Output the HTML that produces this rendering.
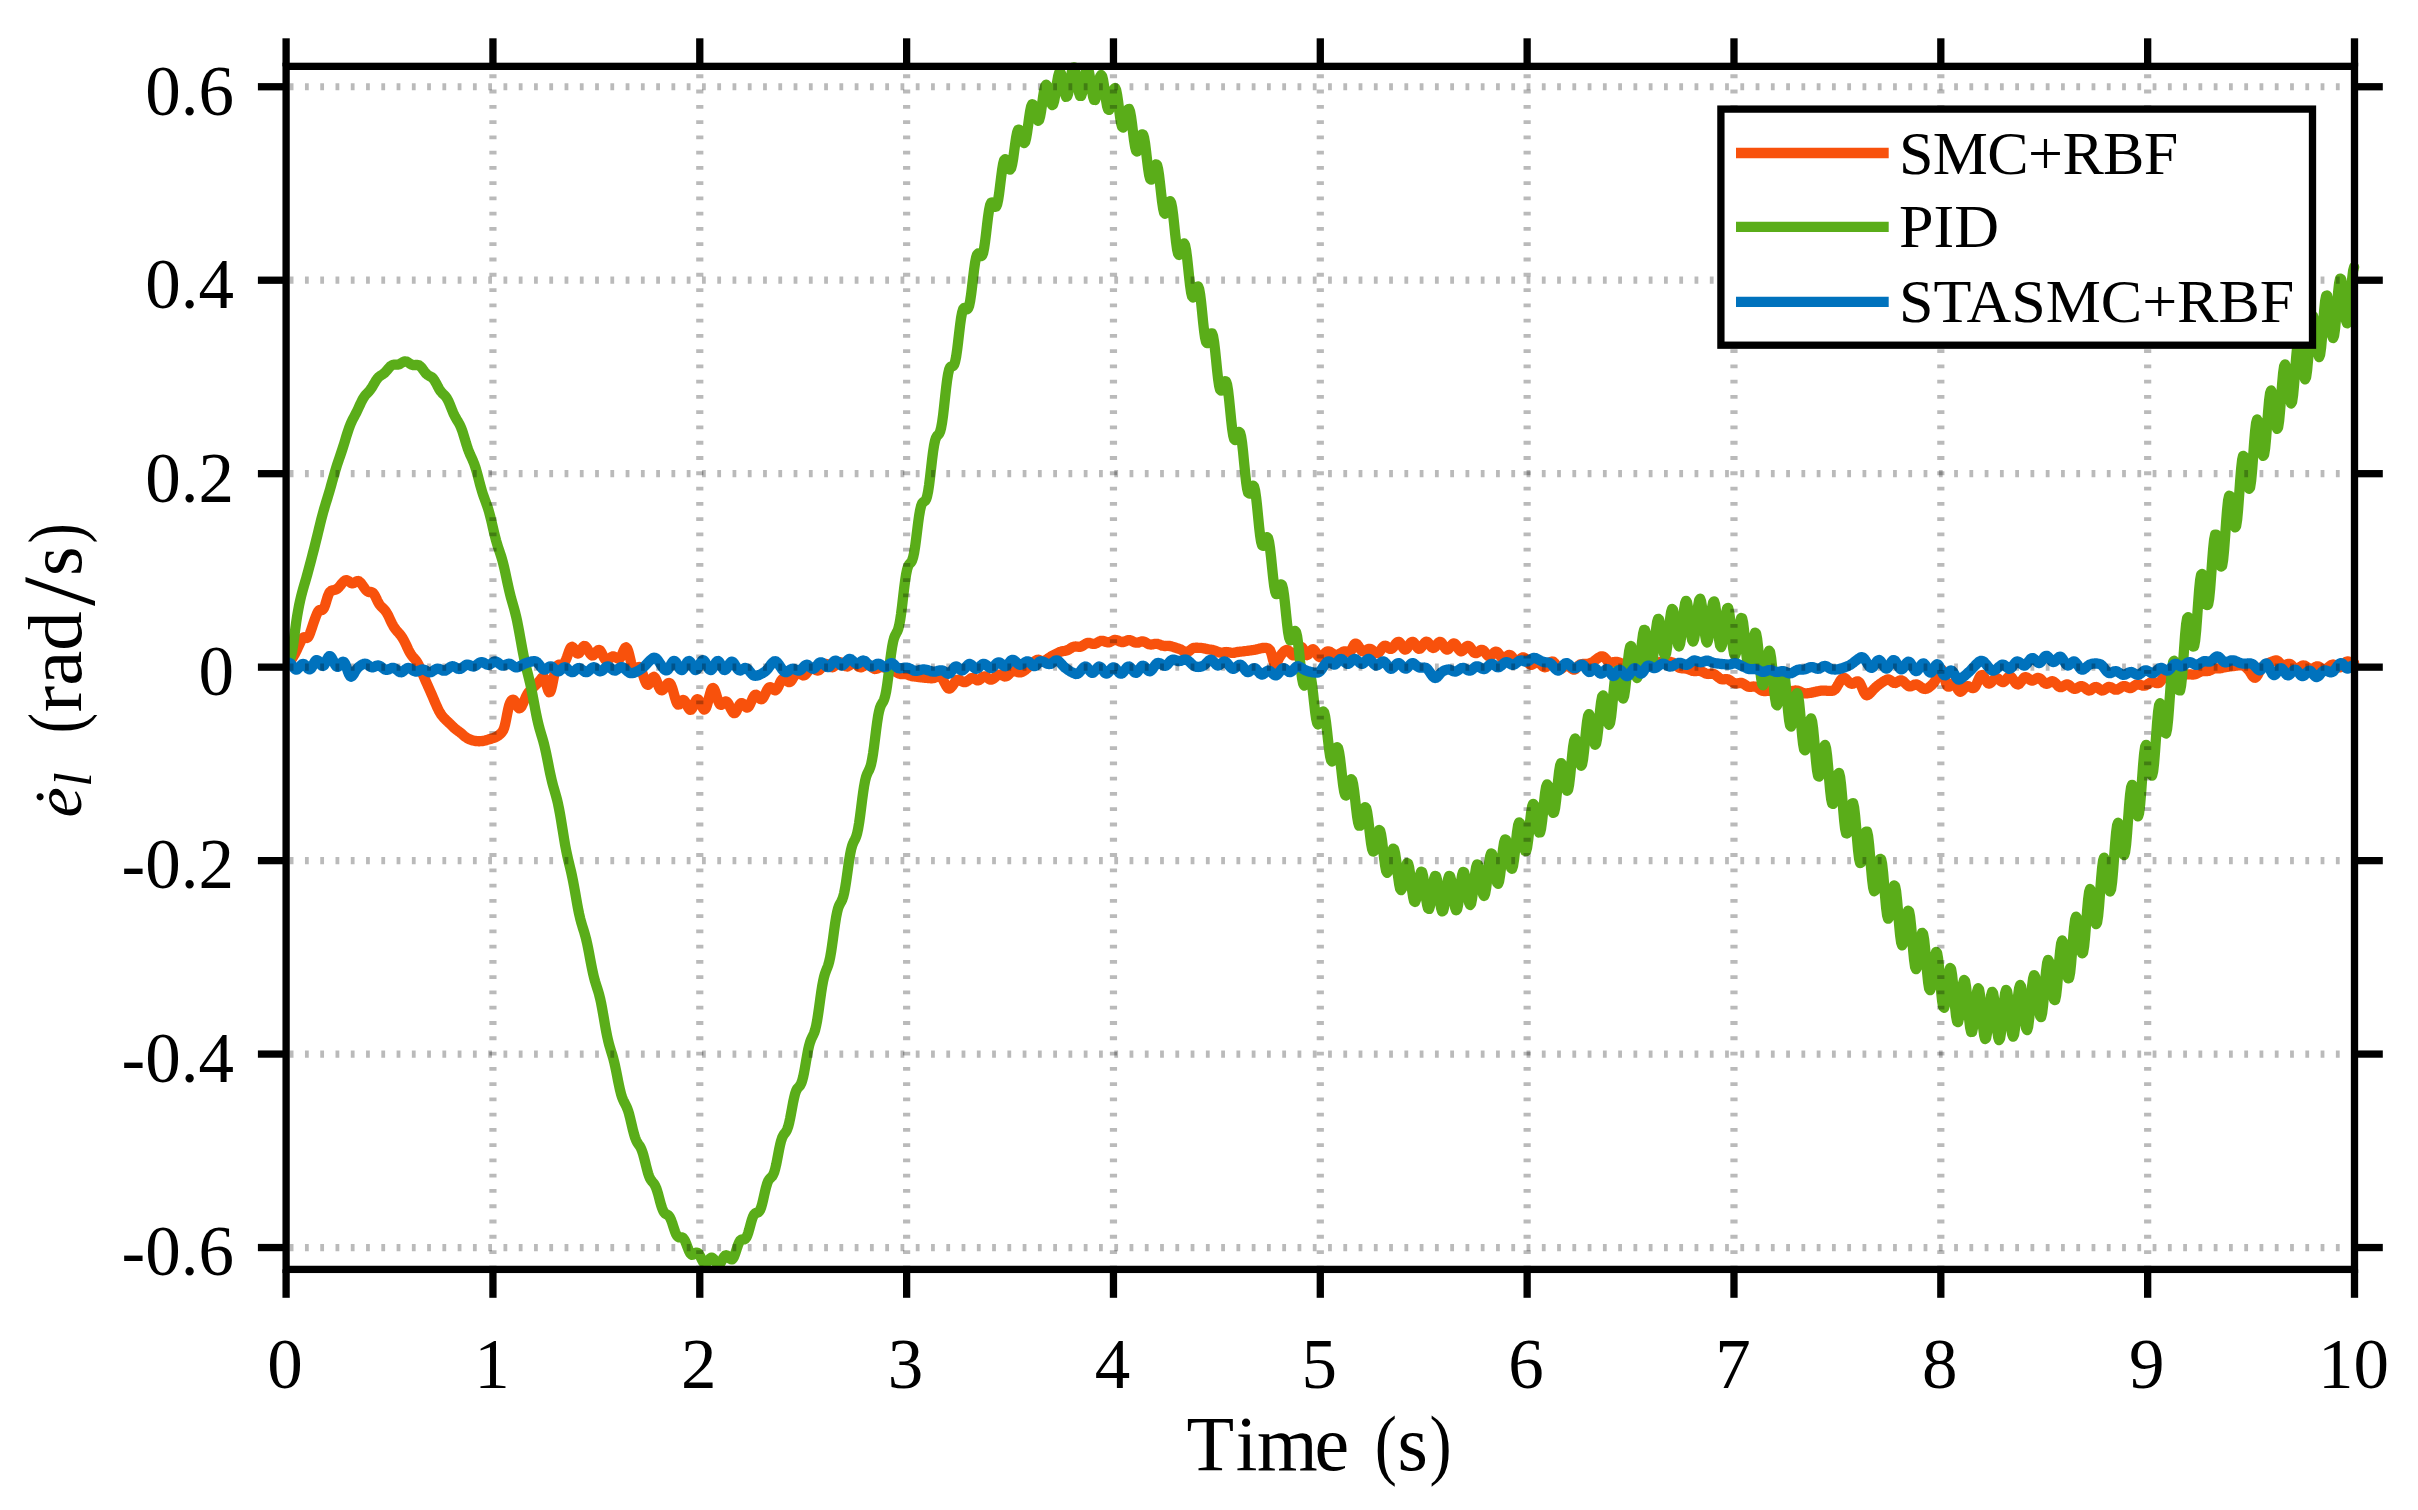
<!DOCTYPE html>
<html lang="en"><head><meta charset="utf-8"><title>Tracking error rate</title>
<style>html,body{margin:0;padding:0;background:#fff}body{width:2418px;height:1510px;overflow:hidden}svg{display:block}text{font-family:"Liberation Serif","DejaVu Serif",serif;fill:#000}</style></head><body>
<svg width="2418" height="1510" viewBox="0 0 2418 1510">
<rect width="2418" height="1510" fill="#fff"/>
<defs><clipPath id="pc"><rect x="283" y="40" width="2077" height="1250"/></clipPath></defs>
<g fill="none" stroke-width="10.3" stroke-linejoin="round" stroke-linecap="round" clip-path="url(#pc)">
<path stroke="#f8510c" d="M286.1 663.0L287.1 662.9L288.1 662.6L289.1 662.1L290.1 661.2L291.1 660.0L292.1 658.6L293.1 656.9L294.1 655.2L295.1 653.4L296.1 651.4L297.1 649.4L298.1 647.2L299.1 645.1L300.1 642.9L301.1 640.8L302.1 639.0L303.1 637.7L304.1 637.2L305.1 637.4L306.1 637.8L307.1 638.0L308.1 637.2L309.1 635.4L310.1 633.0L311.1 630.1L312.1 627.2L313.1 624.2L314.1 621.3L315.1 618.5L316.1 615.8L317.1 613.3L318.1 611.4L319.1 610.3L320.1 609.9L321.1 610.0L322.1 610.0L323.1 609.3L324.1 607.7L325.1 605.1L326.1 601.9L327.1 598.5L328.1 595.5L329.1 593.2L330.1 591.7L331.1 590.9L332.1 590.5L333.1 590.2L334.1 590.0L335.1 589.8L336.1 589.4L337.1 588.9L338.1 588.1L339.1 587.0L340.1 585.8L341.1 584.5L342.1 583.2L343.1 582.1L344.1 581.1L345.1 580.4L346.1 580.1L347.1 580.3L348.1 580.8L349.1 581.5L350.1 582.3L351.1 583.0L352.1 583.3L353.1 583.3L354.1 582.9L355.1 582.2L356.1 581.6L357.1 581.1L358.1 581.0L359.1 581.4L360.1 582.2L361.1 583.3L362.1 584.7L363.1 586.1L364.1 587.6L365.1 589.0L366.1 590.2L367.1 591.2L368.1 591.7L369.1 592.0L370.1 592.0L371.1 592.0L372.1 592.2L373.1 593.0L374.1 594.2L375.1 596.0L376.1 598.0L377.1 600.2L378.1 602.2L379.1 603.9L380.1 605.3L381.1 606.5L382.1 607.4L383.1 608.4L384.1 609.3L385.1 610.5L386.1 611.8L387.1 613.5L388.1 615.3L389.1 617.4L390.1 619.6L391.1 621.7L392.1 623.8L393.1 625.6L394.1 627.3L395.1 628.7L396.1 630.0L397.1 631.2L398.1 632.3L399.1 633.4L400.1 634.6L401.1 635.8L402.1 637.3L403.1 638.9L404.1 640.7L405.1 642.7L406.1 644.8L407.1 647.0L408.1 649.2L409.1 651.2L410.1 653.0L411.1 654.6L412.1 656.0L413.1 657.2L414.1 658.3L415.1 659.4L416.1 660.7L417.1 662.2L418.1 663.9L419.1 665.9L420.1 668.0L421.1 670.2L422.1 672.6L423.1 674.9L424.1 677.3L425.1 679.6L426.1 681.9L427.1 684.1L428.1 686.4L429.1 688.6L430.1 690.8L431.1 693.1L432.1 695.4L433.1 697.8L434.1 700.1L435.1 702.5L436.1 704.8L437.1 707.0L438.1 709.1L439.1 711.1L440.1 712.8L441.1 714.4L442.1 715.8L443.1 717.0L444.1 718.2L445.1 719.2L446.1 720.1L447.1 721.1L448.1 722.0L449.1 723.0L450.1 723.9L451.1 724.9L452.1 725.9L453.1 726.9L454.1 727.8L455.1 728.7L456.1 729.5L457.1 730.2L458.1 731.0L459.1 731.7L460.1 732.4L461.1 733.3L462.1 734.1L463.1 735.0L464.1 735.9L465.1 736.7L466.1 737.4L467.1 738.1L468.1 738.6L469.1 739.1L470.1 739.5L471.1 739.9L472.1 740.2L473.1 740.5L474.1 740.7L475.1 740.9L476.1 741.1L477.1 741.2L478.1 741.2L479.1 741.3L480.1 741.2L481.1 741.2L482.1 741.1L483.1 740.9L484.1 740.7L485.1 740.5L486.1 740.2L487.1 739.9L488.1 739.6L489.1 739.3L490.1 739.0L491.1 738.7L492.1 738.4L493.1 738.1L494.1 737.8L495.1 737.4L496.1 736.9L497.1 736.4L498.1 735.7L499.1 735.0L500.1 734.1L501.1 733.2L502.1 732.0L503.1 730.5L504.1 728.1L505.1 724.4L506.1 719.7L507.1 714.5L508.1 709.6L509.1 705.6L510.1 702.8L511.1 701.0L512.1 700.0L513.1 699.7L514.1 700.2L515.1 701.6L516.1 703.5L517.1 705.6L518.1 707.3L519.1 708.3L520.1 708.2L521.1 707.2L522.1 705.4L523.1 703.3L524.1 701.0L525.1 698.7L526.1 696.5L527.1 694.6L528.1 693.0L529.1 691.7L530.1 690.6L531.1 689.6L532.1 688.6L533.1 687.7L534.1 686.7L535.1 685.7L536.1 684.7L537.1 683.7L538.1 682.6L539.1 681.4L540.1 680.1L541.1 678.8L542.1 677.6L543.1 677.0L544.1 677.5L545.1 679.7L546.1 683.0L547.1 686.9L548.1 690.2L549.1 692.2L550.1 692.0L551.1 689.8L552.1 685.8L553.1 680.8L554.1 675.6L555.1 671.1L556.1 667.9L557.1 665.9L558.1 665.0L559.1 664.6L560.1 664.5L561.1 664.4L562.1 664.3L563.1 663.9L564.1 663.0L565.1 661.5L566.1 659.4L567.1 656.8L568.1 653.9L569.1 651.1L570.1 648.7L571.1 647.2L572.1 646.8L573.1 647.4L574.1 648.8L575.1 650.5L576.1 652.2L577.1 653.3L578.1 653.6L579.1 653.0L580.1 651.7L581.1 650.0L582.1 648.2L583.1 646.8L584.1 646.0L585.1 646.1L586.1 646.9L587.1 648.3L588.1 650.1L589.1 651.9L590.1 653.6L591.1 654.8L592.1 655.5L593.1 655.4L594.1 654.6L595.1 653.5L596.1 652.2L597.1 651.0L598.1 650.2L599.1 649.9L600.1 650.5L601.1 651.8L602.1 653.8L603.1 656.0L604.1 658.0L605.1 659.6L606.1 660.4L607.1 660.4L608.1 659.8L609.1 659.0L610.1 658.0L611.1 657.2L612.1 656.6L613.1 656.3L614.1 656.5L615.1 657.0L616.1 657.6L617.1 658.2L618.1 658.7L619.1 658.8L620.1 658.1L621.1 656.6L622.1 654.4L623.1 651.8L624.1 649.5L625.1 647.8L626.1 647.3L627.1 648.3L628.1 650.7L629.1 654.2L630.1 658.4L631.1 662.7L632.1 666.5L633.1 669.5L634.1 671.2L635.1 671.3L636.1 670.3L637.1 668.7L638.1 667.4L639.1 666.9L640.1 667.7L641.1 669.6L642.1 672.2L643.1 675.1L644.1 678.2L645.1 681.0L646.1 683.3L647.1 684.6L648.1 684.9L649.1 684.0L650.1 682.3L651.1 680.3L652.1 678.3L653.1 677.1L654.1 676.8L655.1 677.8L656.1 679.7L657.1 682.2L658.1 685.0L659.1 687.4L660.1 689.3L661.1 690.2L662.1 690.3L663.1 689.7L664.1 688.5L665.1 687.0L666.1 685.5L667.1 684.2L668.1 683.2L669.1 682.9L670.1 683.5L671.1 685.1L672.1 687.6L673.1 690.8L674.1 694.4L675.1 698.0L676.1 701.1L677.1 703.4L678.1 704.6L679.1 704.5L680.1 703.4L681.1 701.8L682.1 700.5L683.1 699.9L684.1 700.4L685.1 701.6L686.1 703.4L687.1 705.5L688.1 707.4L689.1 708.9L690.1 709.8L691.1 709.7L692.1 708.6L693.1 706.7L694.1 704.3L695.1 702.0L696.1 700.2L697.1 699.2L698.1 699.3L699.1 700.4L700.1 702.3L701.1 704.6L702.1 706.8L703.1 708.6L704.1 709.6L705.1 709.3L706.1 707.7L707.1 704.9L708.1 701.3L709.1 697.3L710.1 693.5L711.1 690.4L712.1 688.4L713.1 687.9L714.1 688.9L715.1 691.1L716.1 694.2L717.1 697.5L718.1 700.7L719.1 703.1L720.1 704.6L721.1 704.9L722.1 704.4L723.1 703.4L724.1 702.3L725.1 701.5L726.1 701.3L727.1 701.9L728.1 703.3L729.1 705.1L730.1 707.2L731.1 709.3L732.1 711.1L733.1 712.5L734.1 713.2L735.1 713.0L736.1 711.8L737.1 709.9L738.1 707.8L739.1 705.6L740.1 704.0L741.1 703.1L742.1 703.1L743.1 703.8L744.1 705.0L745.1 706.2L746.1 707.2L747.1 707.6L748.1 707.3L749.1 706.1L750.1 704.3L751.1 702.0L752.1 699.7L753.1 697.5L754.1 695.8L755.1 694.9L756.1 694.7L757.1 695.4L758.1 696.5L759.1 697.8L760.1 698.9L761.1 699.3L762.1 699.1L763.1 698.0L764.1 696.3L765.1 694.3L766.1 692.1L767.1 690.0L768.1 688.4L769.1 687.4L770.1 687.1L771.1 687.5L772.1 688.3L773.1 689.3L774.1 690.1L775.1 690.4L776.1 690.0L777.1 688.8L778.1 687.0L779.1 684.8L780.1 682.5L781.1 680.6L782.1 679.3L783.1 678.7L784.1 678.8L785.1 679.4L786.1 680.3L787.1 681.2L788.1 681.9L789.1 682.2L790.1 682.0L791.1 681.1L792.1 679.7L793.1 678.0L794.1 676.3L795.1 674.6L796.1 673.2L797.1 672.4L798.1 672.2L799.1 672.5L800.1 673.3L801.1 674.2L802.1 675.0L803.1 675.5L804.1 675.4L805.1 674.9L806.1 673.9L807.1 672.6L808.1 671.2L809.1 669.9L810.1 668.8L811.1 668.1L812.1 667.9L813.1 668.2L814.1 668.8L815.1 669.5L816.1 670.1L817.1 670.5L818.1 670.5L819.1 670.1L820.1 669.2L821.1 668.1L822.1 666.8L823.1 665.6L824.1 664.6L825.1 664.0L826.1 663.9L827.1 664.2L828.1 664.9L829.1 665.7L830.1 666.5L831.1 667.1L832.1 667.3L833.1 667.0L834.1 666.4L835.1 665.5L836.1 664.4L837.1 663.5L838.1 662.7L839.1 662.2L840.1 662.2L841.1 662.5L842.1 663.2L843.1 664.0L844.1 664.9L845.1 665.7L846.1 666.3L847.1 666.5L848.1 666.2L849.1 665.7L850.1 664.9L851.1 664.1L852.1 663.4L853.1 663.0L854.1 663.1L855.1 663.5L856.1 664.3L857.1 665.2L858.1 666.1L859.1 666.9L860.1 667.3L861.1 667.3L862.1 667.0L863.1 666.5L864.1 665.9L865.1 665.3L866.1 664.8L867.1 664.6L868.1 664.6L869.1 665.0L870.1 665.7L871.1 666.5L872.1 667.4L873.1 668.2L874.1 668.7L875.1 669.0L876.1 668.9L877.1 668.6L878.1 668.1L879.1 667.6L880.1 667.2L881.1 667.0L882.1 667.0L883.1 667.2L884.1 667.5L885.1 667.8L886.1 668.2L887.1 668.6L888.1 668.9L889.1 669.2L890.1 669.5L891.1 669.8L892.1 670.1L893.1 670.5L894.1 670.9L895.1 671.4L896.1 672.0L897.1 672.6L898.1 673.1L899.1 673.6L900.1 673.9L901.1 674.1L902.1 674.2L903.1 674.2L904.1 674.1L905.1 674.1L906.1 674.3L907.1 674.5L908.1 674.8L909.1 675.2L910.1 675.6L911.1 675.9L912.1 676.2L913.1 676.4L914.1 676.5L915.1 676.6L916.1 676.7L917.1 676.8L918.1 676.9L919.1 677.1L920.1 677.2L921.1 677.4L922.1 677.5L923.1 677.6L924.1 677.7L925.1 677.8L926.1 677.9L927.1 678.0L928.1 678.1L929.1 678.2L930.1 678.2L931.1 678.3L932.1 678.3L933.1 678.1L934.1 677.9L935.1 677.5L936.1 677.1L937.1 676.7L938.1 676.3L939.1 676.2L940.1 676.3L941.1 677.0L942.1 678.2L943.1 679.9L944.1 681.8L945.1 683.8L946.1 685.7L947.1 687.2L948.1 688.3L949.1 688.6L950.1 688.4L951.1 687.5L952.1 686.3L953.1 684.8L954.1 683.3L955.1 681.8L956.1 680.7L957.1 679.9L958.1 679.6L959.1 679.7L960.1 680.2L961.1 680.8L962.1 681.5L963.1 682.0L964.1 682.2L965.1 682.2L966.1 681.8L967.1 681.2L968.1 680.5L969.1 679.7L970.1 679.0L971.1 678.3L972.1 678.0L973.1 677.9L974.1 678.3L975.1 679.0L976.1 679.7L977.1 680.3L978.1 680.4L979.1 680.1L980.1 679.4L981.1 678.5L982.1 677.5L983.1 676.8L984.1 676.3L985.1 676.3L986.1 676.7L987.1 677.4L988.1 678.3L989.1 679.0L990.1 679.6L991.1 679.7L992.1 679.5L993.1 679.0L994.1 678.2L995.1 677.3L996.1 676.4L997.1 675.6L998.1 674.9L999.1 674.6L1000.1 674.5L1001.1 674.7L1002.1 675.2L1003.1 675.8L1004.1 676.2L1005.1 676.5L1006.1 676.4L1007.1 675.9L1008.1 675.1L1009.1 674.1L1010.1 673.0L1011.1 672.1L1012.1 671.4L1013.1 671.1L1014.1 671.1L1015.1 671.3L1016.1 671.6L1017.1 671.9L1018.1 672.2L1019.1 672.4L1020.1 672.4L1021.1 672.3L1022.1 671.9L1023.1 671.4L1024.1 670.8L1025.1 670.1L1026.1 669.2L1027.1 668.3L1028.1 667.4L1029.1 666.4L1030.1 665.4L1031.1 664.4L1032.1 663.5L1033.1 662.6L1034.1 661.8L1035.1 661.0L1036.1 660.4L1037.1 659.9L1038.1 659.7L1039.1 659.8L1040.1 660.4L1041.1 661.3L1042.1 661.7L1043.1 661.5L1044.1 661.0L1045.1 660.4L1046.1 659.8L1047.1 659.1L1048.1 658.5L1049.1 657.8L1050.1 657.1L1051.1 656.5L1052.1 655.8L1053.1 655.3L1054.1 654.8L1055.1 654.3L1056.1 653.8L1057.1 653.3L1058.1 652.8L1059.1 652.3L1060.1 651.9L1061.1 651.6L1062.1 651.3L1063.1 651.1L1064.1 651.0L1065.1 650.9L1066.1 650.6L1067.1 650.3L1068.1 649.9L1069.1 649.3L1070.1 648.7L1071.1 648.0L1072.1 647.4L1073.1 646.9L1074.1 646.6L1075.1 646.5L1076.1 646.5L1077.1 646.6L1078.1 646.8L1079.1 646.8L1080.1 646.8L1081.1 646.5L1082.1 646.1L1083.1 645.5L1084.1 644.8L1085.1 644.1L1086.1 643.5L1087.1 643.1L1088.1 642.9L1089.1 642.9L1090.1 643.1L1091.1 643.4L1092.1 643.7L1093.1 643.9L1094.1 643.9L1095.1 643.7L1096.1 643.3L1097.1 642.8L1098.1 642.2L1099.1 641.6L1100.1 641.1L1101.1 640.8L1102.1 640.8L1103.1 640.9L1104.1 641.2L1105.1 641.6L1106.1 642.0L1107.1 642.2L1108.1 642.4L1109.1 642.3L1110.1 642.0L1111.1 641.5L1112.1 641.0L1113.1 640.5L1114.1 640.1L1115.1 639.9L1116.1 640.0L1117.1 640.2L1118.1 640.6L1119.1 641.1L1120.1 641.6L1121.1 641.9L1122.1 642.1L1123.1 642.1L1124.1 641.8L1125.1 641.4L1126.1 641.0L1127.1 640.5L1128.1 640.2L1129.1 640.1L1130.1 640.2L1131.1 640.6L1132.1 641.0L1133.1 641.6L1134.1 642.1L1135.1 642.5L1136.1 642.7L1137.1 642.7L1138.1 642.6L1139.1 642.2L1140.1 641.9L1141.1 641.6L1142.1 641.4L1143.1 641.4L1144.1 641.7L1145.1 642.1L1146.1 642.7L1147.1 643.3L1148.1 643.8L1149.1 644.3L1150.1 644.5L1151.1 644.6L1152.1 644.5L1153.1 644.2L1154.1 644.0L1155.1 643.8L1156.1 643.8L1157.1 643.8L1158.1 644.1L1159.1 644.4L1160.1 644.8L1161.1 645.2L1162.1 645.6L1163.1 645.8L1164.1 646.0L1165.1 646.0L1166.1 646.0L1167.1 645.9L1168.1 645.9L1169.1 645.9L1170.1 646.1L1171.1 646.3L1172.1 646.6L1173.1 646.9L1174.1 647.2L1175.1 647.5L1176.1 647.9L1177.1 648.2L1178.1 648.5L1179.1 648.9L1180.1 649.2L1181.1 649.7L1182.1 650.3L1183.1 651.0L1184.1 651.7L1185.1 652.3L1186.1 652.5L1187.1 652.3L1188.1 651.8L1189.1 651.1L1190.1 650.2L1191.1 649.4L1192.1 648.7L1193.1 648.1L1194.1 647.9L1195.1 647.8L1196.1 647.7L1197.1 647.7L1198.1 647.8L1199.1 647.8L1200.1 647.9L1201.1 647.9L1202.1 648.0L1203.1 648.2L1204.1 648.4L1205.1 648.6L1206.1 648.9L1207.1 649.1L1208.1 649.3L1209.1 649.5L1210.1 649.6L1211.1 649.7L1212.1 649.9L1213.1 650.1L1214.1 650.4L1215.1 650.7L1216.1 651.1L1217.1 651.6L1218.1 652.0L1219.1 652.4L1220.1 652.6L1221.1 652.7L1222.1 652.6L1223.1 652.5L1224.1 652.3L1225.1 652.1L1226.1 652.0L1227.1 652.1L1228.1 652.2L1229.1 652.4L1230.1 652.6L1231.1 652.8L1232.1 652.9L1233.1 652.9L1234.1 652.8L1235.1 652.5L1236.1 652.3L1237.1 652.1L1238.1 651.9L1239.1 651.8L1240.1 651.7L1241.1 651.6L1242.1 651.5L1243.1 651.4L1244.1 651.2L1245.1 651.1L1246.1 651.0L1247.1 650.9L1248.1 650.7L1249.1 650.6L1250.1 650.5L1251.1 650.3L1252.1 650.2L1253.1 650.0L1254.1 649.9L1255.1 649.7L1256.1 649.5L1257.1 649.2L1258.1 649.0L1259.1 648.8L1260.1 648.5L1261.1 648.3L1262.1 648.1L1263.1 647.9L1264.1 647.8L1265.1 647.8L1266.1 647.9L1267.1 648.2L1268.1 648.5L1269.1 649.2L1270.1 650.4L1271.1 652.7L1272.1 656.2L1273.1 660.1L1274.1 663.1L1275.1 664.4L1276.1 663.9L1277.1 662.3L1278.1 660.1L1279.1 658.0L1280.1 656.3L1281.1 654.8L1282.1 653.5L1283.1 652.4L1284.1 651.3L1285.1 650.5L1286.1 650.0L1287.1 649.8L1288.1 650.3L1289.1 651.2L1290.1 652.5L1291.1 653.8L1292.1 654.9L1293.1 655.4L1294.1 655.3L1295.1 654.6L1296.1 653.3L1297.1 651.7L1298.1 650.0L1299.1 648.5L1300.1 647.3L1301.1 646.9L1302.1 647.4L1303.1 648.9L1304.1 651.1L1305.1 653.2L1306.1 654.7L1307.1 655.2L1308.1 654.6L1309.1 653.4L1310.1 651.9L1311.1 650.4L1312.1 649.5L1313.1 649.2L1314.1 649.8L1315.1 651.1L1316.1 652.7L1317.1 654.5L1318.1 655.9L1319.1 656.9L1320.1 657.2L1321.1 656.9L1322.1 656.1L1323.1 655.2L1324.1 654.1L1325.1 653.0L1326.1 652.1L1327.1 651.5L1328.1 651.3L1329.1 651.5L1330.1 651.9L1331.1 652.6L1332.1 653.2L1333.1 653.9L1334.1 654.5L1335.1 654.9L1336.1 655.0L1337.1 654.9L1338.1 654.6L1339.1 654.1L1340.1 653.5L1341.1 652.9L1342.1 652.3L1343.1 651.7L1344.1 651.4L1345.1 651.3L1346.1 651.5L1347.1 651.8L1348.1 652.2L1349.1 652.3L1350.1 651.7L1351.1 650.5L1352.1 648.6L1353.1 646.5L1354.1 644.7L1355.1 643.7L1356.1 643.6L1357.1 644.3L1358.1 645.6L1359.1 647.2L1360.1 648.9L1361.1 650.2L1362.1 651.1L1363.1 651.5L1364.1 651.3L1365.1 650.9L1366.1 650.2L1367.1 649.6L1368.1 649.1L1369.1 648.9L1370.1 648.9L1371.1 649.3L1372.1 650.0L1373.1 650.7L1374.1 651.6L1375.1 652.3L1376.1 652.9L1377.1 653.2L1378.1 653.0L1379.1 652.2L1380.1 651.0L1381.1 649.5L1382.1 647.9L1383.1 646.7L1384.1 645.9L1385.1 645.7L1386.1 646.0L1387.1 646.7L1388.1 647.6L1389.1 648.4L1390.1 648.9L1391.1 648.9L1392.1 648.4L1393.1 647.5L1394.1 646.2L1395.1 644.7L1396.1 643.3L1397.1 642.3L1398.1 641.8L1399.1 641.9L1400.1 642.9L1401.1 644.4L1402.1 646.2L1403.1 647.8L1404.1 649.1L1405.1 649.6L1406.1 649.3L1407.1 648.3L1408.1 646.8L1409.1 645.2L1410.1 643.6L1411.1 642.4L1412.1 641.8L1413.1 641.9L1414.1 642.8L1415.1 644.2L1416.1 645.7L1417.1 647.2L1418.1 648.3L1419.1 648.8L1420.1 648.6L1421.1 647.7L1422.1 646.4L1423.1 644.9L1424.1 643.5L1425.1 642.3L1426.1 641.7L1427.1 641.8L1428.1 642.5L1429.1 643.7L1430.1 645.1L1431.1 646.5L1432.1 647.5L1433.1 648.0L1434.1 647.8L1435.1 647.0L1436.1 645.7L1437.1 644.3L1438.1 643.0L1439.1 642.1L1440.1 641.8L1441.1 642.2L1442.1 643.4L1443.1 645.0L1444.1 646.7L1445.1 648.2L1446.1 649.3L1447.1 649.7L1448.1 649.3L1449.1 648.4L1450.1 647.1L1451.1 645.7L1452.1 644.5L1453.1 643.6L1454.1 643.4L1455.1 643.9L1456.1 645.0L1457.1 646.6L1458.1 648.3L1459.1 649.8L1460.1 650.9L1461.1 651.4L1462.1 651.1L1463.1 650.3L1464.1 649.2L1465.1 647.9L1466.1 646.8L1467.1 646.0L1468.1 645.8L1469.1 646.2L1470.1 647.2L1471.1 648.6L1472.1 650.2L1473.1 651.6L1474.1 652.6L1475.1 653.2L1476.1 653.1L1477.1 652.7L1478.1 652.0L1479.1 651.1L1480.1 650.4L1481.1 649.9L1482.1 649.8L1483.1 650.2L1484.1 651.1L1485.1 652.3L1486.1 653.7L1487.1 655.0L1488.1 655.9L1489.1 656.4L1490.1 656.3L1491.1 655.7L1492.1 654.8L1493.1 653.7L1494.1 652.6L1495.1 651.8L1496.1 651.6L1497.1 651.9L1498.1 652.8L1499.1 654.1L1500.1 655.7L1501.1 657.2L1502.1 658.3L1503.1 658.8L1504.1 658.8L1505.1 658.2L1506.1 657.2L1507.1 656.2L1508.1 655.3L1509.1 654.9L1510.1 655.0L1511.1 655.7L1512.1 656.8L1513.1 658.2L1514.1 659.6L1515.1 660.7L1516.1 661.3L1517.1 661.4L1518.1 661.0L1519.1 660.3L1520.1 659.3L1521.1 658.3L1522.1 657.6L1523.1 657.3L1524.1 657.5L1525.1 658.3L1526.1 659.5L1527.1 661.0L1528.1 662.5L1529.1 663.8L1530.1 664.6L1531.1 664.9L1532.1 664.7L1533.1 664.2L1534.1 663.6L1535.1 662.9L1536.1 662.4L1537.1 662.1L1538.1 662.2L1539.1 662.8L1540.1 663.6L1541.1 664.7L1542.1 665.7L1543.1 666.6L1544.1 667.2L1545.1 667.3L1546.1 666.9L1547.1 666.1L1548.1 665.0L1549.1 663.8L1550.1 662.7L1551.1 661.9L1552.1 661.5L1553.1 661.6L1554.1 662.4L1555.1 663.7L1556.1 665.2L1557.1 666.7L1558.1 668.0L1559.1 668.8L1560.1 669.0L1561.1 668.8L1562.1 668.3L1563.1 667.6L1564.1 666.9L1565.1 666.2L1566.1 665.7L1567.1 665.5L1568.1 665.6L1569.1 666.2L1570.1 667.0L1571.1 668.0L1572.1 668.9L1573.1 669.6L1574.1 669.7L1575.1 669.3L1576.1 668.4L1577.1 667.3L1578.1 666.1L1579.1 665.2L1580.1 664.5L1581.1 664.2L1582.1 664.0L1583.1 663.9L1584.1 663.9L1585.1 663.9L1586.1 663.9L1587.1 663.8L1588.1 663.8L1589.1 663.6L1590.1 663.3L1591.1 662.9L1592.1 662.4L1593.1 661.8L1594.1 661.1L1595.1 660.3L1596.1 659.5L1597.1 658.7L1598.1 658.0L1599.1 657.4L1600.1 656.8L1601.1 656.4L1602.1 656.3L1603.1 656.5L1604.1 657.1L1605.1 658.0L1606.1 659.1L1607.1 660.3L1608.1 661.3L1609.1 662.1L1610.1 662.5L1611.1 662.6L1612.1 662.5L1613.1 662.3L1614.1 662.0L1615.1 661.9L1616.1 661.8L1617.1 661.9L1618.1 662.2L1619.1 662.5L1620.1 662.9L1621.1 663.4L1622.1 664.0L1623.1 664.5L1624.1 665.1L1625.1 665.7L1626.1 666.2L1627.1 666.7L1628.1 667.1L1629.1 667.4L1630.1 667.6L1631.1 667.8L1632.1 667.9L1633.1 668.0L1634.1 668.2L1635.1 668.2L1636.1 668.3L1637.1 668.3L1638.1 668.2L1639.1 668.0L1640.1 667.7L1641.1 667.4L1642.1 667.1L1643.1 666.7L1644.1 666.4L1645.1 666.2L1646.1 666.0L1647.1 665.8L1648.1 665.6L1649.1 665.5L1650.1 665.2L1651.1 665.0L1652.1 664.6L1653.1 664.2L1654.1 663.8L1655.1 663.4L1656.1 663.0L1657.1 662.7L1658.1 662.4L1659.1 662.2L1660.1 662.1L1661.1 662.0L1662.1 661.9L1663.1 661.9L1664.1 661.9L1665.1 661.8L1666.1 661.8L1667.1 661.8L1668.1 661.8L1669.1 661.8L1670.1 661.9L1671.1 662.1L1672.1 662.4L1673.1 662.8L1674.1 663.5L1675.1 664.3L1676.1 665.3L1677.1 666.3L1678.1 667.1L1679.1 667.6L1680.1 668.0L1681.1 668.2L1682.1 668.3L1683.1 668.3L1684.1 668.4L1685.1 668.4L1686.1 668.6L1687.1 668.8L1688.1 669.1L1689.1 669.5L1690.1 669.9L1691.1 670.3L1692.1 670.7L1693.1 671.0L1694.1 671.1L1695.1 671.2L1696.1 671.1L1697.1 671.0L1698.1 670.9L1699.1 670.8L1700.1 670.9L1701.1 671.2L1702.1 671.6L1703.1 672.1L1704.1 672.7L1705.1 673.2L1706.1 673.6L1707.1 673.9L1708.1 674.0L1709.1 673.9L1710.1 673.8L1711.1 673.7L1712.1 673.7L1713.1 673.8L1714.1 674.1L1715.1 674.7L1716.1 675.4L1717.1 676.2L1718.1 677.1L1719.1 677.9L1720.1 678.6L1721.1 679.1L1722.1 679.3L1723.1 679.4L1724.1 679.3L1725.1 679.2L1726.1 679.1L1727.1 679.2L1728.1 679.4L1729.1 679.9L1730.1 680.5L1731.1 681.2L1732.1 681.9L1733.1 682.6L1734.1 683.1L1735.1 683.4L1736.1 683.5L1737.1 683.4L1738.1 683.2L1739.1 683.0L1740.1 682.9L1741.1 682.9L1742.1 683.1L1743.1 683.6L1744.1 684.1L1745.1 684.8L1746.1 685.5L1747.1 686.1L1748.1 686.6L1749.1 686.8L1750.1 686.9L1751.1 686.8L1752.1 686.7L1753.1 686.5L1754.1 686.5L1755.1 686.6L1756.1 687.0L1757.1 687.5L1758.1 688.1L1759.1 688.8L1760.1 689.5L1761.1 690.2L1762.1 690.6L1763.1 691.0L1764.1 691.1L1765.1 691.1L1766.1 690.9L1767.1 690.8L1768.1 690.7L1769.1 690.7L1770.1 690.8L1771.1 691.0L1772.1 691.3L1773.1 691.7L1774.1 692.0L1775.1 692.3L1776.1 692.4L1777.1 692.3L1778.1 692.1L1779.1 691.7L1780.1 691.3L1781.1 690.9L1782.1 690.6L1783.1 690.4L1784.1 690.3L1785.1 690.4L1786.1 690.6L1787.1 690.8L1788.1 691.1L1789.1 691.2L1790.1 691.3L1791.1 691.3L1792.1 691.1L1793.1 690.9L1794.1 690.7L1795.1 690.5L1796.1 690.5L1797.1 690.6L1798.1 690.8L1799.1 691.2L1800.1 691.7L1801.1 692.2L1802.1 692.7L1803.1 693.0L1804.1 693.3L1805.1 693.4L1806.1 693.4L1807.1 693.3L1808.1 693.2L1809.1 693.0L1810.1 692.9L1811.1 692.8L1812.1 692.6L1813.1 692.3L1814.1 692.1L1815.1 691.9L1816.1 691.6L1817.1 691.4L1818.1 691.2L1819.1 691.0L1820.1 690.8L1821.1 690.7L1822.1 690.6L1823.1 690.6L1824.1 690.6L1825.1 690.7L1826.1 690.7L1827.1 690.8L1828.1 690.8L1829.1 690.9L1830.1 690.9L1831.1 690.9L1832.1 690.8L1833.1 690.6L1834.1 690.1L1835.1 689.3L1836.1 688.0L1837.1 686.4L1838.1 684.7L1839.1 682.9L1840.1 681.2L1841.1 679.7L1842.1 678.6L1843.1 678.0L1844.1 677.9L1845.1 678.3L1846.1 679.1L1847.1 680.2L1848.1 681.3L1849.1 682.3L1850.1 683.2L1851.1 683.7L1852.1 683.8L1853.1 683.6L1854.1 683.0L1855.1 682.3L1856.1 681.7L1857.1 681.3L1858.1 681.4L1859.1 682.1L1860.1 683.5L1861.1 685.5L1862.1 687.8L1863.1 690.1L1864.1 692.3L1865.1 694.0L1866.1 695.0L1867.1 695.3L1868.1 694.9L1869.1 694.2L1870.1 693.2L1871.1 692.1L1872.1 691.0L1873.1 689.9L1874.1 688.8L1875.1 687.8L1876.1 686.9L1877.1 686.1L1878.1 685.3L1879.1 684.6L1880.1 683.8L1881.1 683.1L1882.1 682.4L1883.1 681.7L1884.1 681.1L1885.1 680.5L1886.1 680.0L1887.1 679.6L1888.1 679.4L1889.1 679.6L1890.1 680.1L1891.1 680.8L1892.1 681.7L1893.1 682.5L1894.1 682.9L1895.1 683.0L1896.1 682.7L1897.1 682.2L1898.1 681.5L1899.1 680.9L1900.1 680.4L1901.1 680.3L1902.1 680.6L1903.1 681.2L1904.1 682.1L1905.1 683.1L1906.1 684.1L1907.1 685.1L1908.1 685.8L1909.1 686.3L1910.1 686.4L1911.1 686.2L1912.1 685.8L1913.1 685.3L1914.1 684.8L1915.1 684.5L1916.1 684.4L1917.1 684.6L1918.1 685.1L1919.1 685.8L1920.1 686.5L1921.1 687.3L1922.1 688.0L1923.1 688.6L1924.1 688.9L1925.1 689.0L1926.1 688.8L1927.1 688.5L1928.1 688.0L1929.1 687.3L1930.1 686.5L1931.1 685.6L1932.1 684.7L1933.1 683.6L1934.1 682.4L1935.1 680.9L1936.1 678.8L1937.1 676.2L1938.1 673.6L1939.1 671.2L1940.1 669.4L1941.1 668.9L1942.1 669.9L1943.1 672.5L1944.1 676.2L1945.1 680.1L1946.1 683.5L1947.1 685.8L1948.1 686.7L1949.1 686.6L1950.1 685.7L1951.1 684.6L1952.1 683.6L1953.1 683.0L1954.1 683.2L1955.1 684.2L1956.1 685.9L1957.1 688.0L1958.1 689.9L1959.1 691.2L1960.1 691.8L1961.1 691.5L1962.1 690.7L1963.1 689.6L1964.1 688.3L1965.1 687.2L1966.1 686.4L1967.1 686.1L1968.1 686.1L1969.1 686.5L1970.1 687.0L1971.1 687.5L1972.1 687.9L1973.1 688.1L1974.1 687.8L1975.1 686.8L1976.1 685.1L1977.1 682.9L1978.1 680.5L1979.1 678.2L1980.1 676.3L1981.1 675.2L1982.1 675.0L1983.1 675.7L1984.1 677.0L1985.1 678.8L1986.1 680.7L1987.1 682.2L1988.1 683.3L1989.1 683.6L1990.1 683.3L1991.1 682.5L1992.1 681.4L1993.1 680.3L1994.1 679.2L1995.1 678.4L1996.1 678.0L1997.1 678.1L1998.1 678.6L1999.1 679.5L2000.1 680.4L2001.1 681.3L2002.1 681.9L2003.1 682.1L2004.1 681.7L2005.1 680.8L2006.1 679.6L2007.1 678.3L2008.1 677.2L2009.1 676.5L2010.1 676.4L2011.1 677.0L2012.1 678.0L2013.1 679.4L2014.1 680.9L2015.1 682.4L2016.1 683.6L2017.1 684.3L2018.1 684.5L2019.1 684.0L2020.1 682.9L2021.1 681.6L2022.1 680.1L2023.1 678.8L2024.1 677.7L2025.1 677.2L2026.1 677.2L2027.1 677.6L2028.1 678.3L2029.1 679.1L2030.1 679.9L2031.1 680.4L2032.1 680.6L2033.1 680.4L2034.1 679.9L2035.1 679.3L2036.1 678.6L2037.1 678.1L2038.1 677.9L2039.1 678.0L2040.1 678.5L2041.1 679.4L2042.1 680.5L2043.1 681.6L2044.1 682.7L2045.1 683.4L2046.1 683.8L2047.1 683.8L2048.1 683.4L2049.1 682.7L2050.1 682.0L2051.1 681.5L2052.1 681.2L2053.1 681.3L2054.1 681.9L2055.1 682.7L2056.1 683.8L2057.1 684.9L2058.1 686.0L2059.1 686.7L2060.1 687.2L2061.1 687.2L2062.1 686.9L2063.1 686.3L2064.1 685.7L2065.1 685.1L2066.1 684.6L2067.1 684.4L2068.1 684.6L2069.1 685.1L2070.1 685.9L2071.1 686.9L2072.1 687.7L2073.1 688.4L2074.1 688.8L2075.1 688.9L2076.1 688.6L2077.1 688.1L2078.1 687.4L2079.1 686.8L2080.1 686.3L2081.1 686.1L2082.1 686.2L2083.1 686.6L2084.1 687.2L2085.1 688.1L2086.1 688.9L2087.1 689.7L2088.1 690.2L2089.1 690.5L2090.1 690.3L2091.1 689.8L2092.1 689.0L2093.1 688.2L2094.1 687.5L2095.1 687.1L2096.1 687.0L2097.1 687.4L2098.1 688.0L2099.1 688.8L2100.1 689.6L2101.1 690.2L2102.1 690.5L2103.1 690.4L2104.1 689.9L2105.1 689.2L2106.1 688.4L2107.1 687.7L2108.1 687.1L2109.1 686.9L2110.1 687.0L2111.1 687.4L2112.1 688.0L2113.1 688.6L2114.1 689.2L2115.1 689.6L2116.1 689.7L2117.1 689.6L2118.1 689.2L2119.1 688.7L2120.1 688.0L2121.1 687.3L2122.1 686.6L2123.1 686.2L2124.1 686.1L2125.1 686.2L2126.1 686.5L2127.1 687.0L2128.1 687.6L2129.1 687.9L2130.1 688.1L2131.1 687.9L2132.1 687.5L2133.1 686.8L2134.1 686.0L2135.1 685.3L2136.1 684.7L2137.1 684.4L2138.1 684.3L2139.1 684.5L2140.1 684.8L2141.1 685.1L2142.1 685.4L2143.1 685.7L2144.1 685.7L2145.1 685.5L2146.1 685.2L2147.1 684.6L2148.1 684.0L2149.1 683.3L2150.1 682.7L2151.1 682.2L2152.1 681.9L2153.1 681.9L2154.1 682.1L2155.1 682.5L2156.1 682.9L2157.1 683.1L2158.1 683.1L2159.1 682.8L2160.1 681.9L2161.1 680.7L2162.1 679.3L2163.1 678.0L2164.1 676.9L2165.1 676.2L2166.1 675.9L2167.1 675.7L2168.1 675.6L2169.1 675.5L2170.1 675.4L2171.1 675.3L2172.1 675.3L2173.1 675.2L2174.1 675.2L2175.1 675.2L2176.1 675.2L2177.1 675.2L2178.1 675.3L2179.1 675.3L2180.1 675.4L2181.1 675.4L2182.1 675.3L2183.1 675.2L2184.1 675.0L2185.1 674.7L2186.1 674.5L2187.1 674.3L2188.1 674.3L2189.1 674.3L2190.1 674.3L2191.1 674.5L2192.1 674.6L2193.1 674.6L2194.1 674.5L2195.1 674.3L2196.1 673.9L2197.1 673.4L2198.1 672.9L2199.1 672.3L2200.1 671.8L2201.1 671.4L2202.1 671.2L2203.1 671.1L2204.1 671.1L2205.1 671.2L2206.1 671.2L2207.1 671.1L2208.1 671.0L2209.1 670.7L2210.1 670.3L2211.1 669.8L2212.1 669.3L2213.1 668.9L2214.1 668.6L2215.1 668.5L2216.1 668.4L2217.1 668.4L2218.1 668.4L2219.1 668.4L2220.1 668.3L2221.1 668.1L2222.1 667.9L2223.1 667.6L2224.1 667.5L2225.1 667.3L2226.1 667.1L2227.1 667.0L2228.1 666.8L2229.1 666.6L2230.1 666.5L2231.1 666.3L2232.1 666.2L2233.1 666.1L2234.1 665.9L2235.1 665.8L2236.1 665.7L2237.1 665.6L2238.1 665.5L2239.1 665.4L2240.1 665.3L2241.1 665.2L2242.1 665.3L2243.1 665.6L2244.1 666.1L2245.1 666.8L2246.1 667.6L2247.1 668.5L2248.1 669.5L2249.1 670.7L2250.1 672.2L2251.1 673.8L2252.1 675.4L2253.1 676.8L2254.1 677.6L2255.1 677.8L2256.1 677.2L2257.1 676.0L2258.1 674.3L2259.1 672.3L2260.1 670.3L2261.1 668.5L2262.1 667.1L2263.1 666.1L2264.1 665.4L2265.1 664.8L2266.1 664.3L2267.1 663.8L2268.1 663.4L2269.1 662.9L2270.1 662.4L2271.1 662.0L2272.1 661.6L2273.1 661.2L2274.1 660.8L2275.1 660.6L2276.1 660.4L2277.1 660.6L2278.1 661.2L2279.1 662.2L2280.1 663.3L2281.1 664.4L2282.1 665.2L2283.1 665.7L2284.1 665.6L2285.1 665.3L2286.1 664.8L2287.1 664.2L2288.1 663.9L2289.1 663.8L2290.1 664.0L2291.1 664.7L2292.1 665.7L2293.1 666.8L2294.1 667.8L2295.1 668.6L2296.1 668.9L2297.1 668.9L2298.1 668.4L2299.1 667.8L2300.1 667.0L2301.1 666.3L2302.1 665.7L2303.1 665.4L2304.1 665.5L2305.1 665.8L2306.1 666.4L2307.1 667.1L2308.1 667.8L2309.1 668.5L2310.1 668.9L2311.1 669.0L2312.1 668.8L2313.1 668.4L2314.1 667.8L2315.1 667.1L2316.1 666.6L2317.1 666.3L2318.1 666.3L2319.1 666.7L2320.1 667.4L2321.1 668.2L2322.1 669.0L2323.1 669.5L2324.1 669.8L2325.1 669.7L2326.1 669.2L2327.1 668.4L2328.1 667.6L2329.1 666.7L2330.1 665.8L2331.1 665.1L2332.1 664.7L2333.1 664.5L2334.1 664.7L2335.1 665.1L2336.1 665.6L2337.1 666.3L2338.1 666.8L2339.1 667.2L2340.1 667.4L2341.1 667.1L2342.1 666.4L2343.1 665.4L2344.1 664.1L2345.1 662.9L2346.1 661.9L2347.1 661.5L2348.1 661.5L2349.1 661.8L2350.1 662.3L2351.1 662.6L2352.1 662.7L2353.1 662.8L2354.1 662.8"/>
<path stroke="#5aad19" d="M286.1 664.8L287.1 664.2L288.1 663.1L289.1 661.4L290.1 659.0L291.1 655.7L292.1 651.2L293.1 645.2L294.1 638.0L295.1 630.3L296.1 622.9L297.1 616.3L298.1 610.5L299.1 605.3L300.1 600.6L301.1 596.4L302.1 592.5L303.1 588.9L304.1 585.4L305.1 582.0L306.1 578.6L307.1 575.0L308.1 571.4L309.1 567.7L310.1 563.9L311.1 560.1L312.1 556.3L313.1 552.4L314.1 548.6L315.1 544.6L316.1 540.6L317.1 536.5L318.1 532.4L319.1 528.2L320.1 524.1L321.1 520.1L322.1 516.2L323.1 512.5L324.1 509.0L325.1 505.6L326.1 502.3L327.1 499.1L328.1 495.8L329.1 492.5L330.1 489.1L331.1 485.5L332.1 481.9L333.1 478.3L334.1 474.8L335.1 471.3L336.1 468.0L337.1 464.8L338.1 461.8L339.1 458.9L340.1 456.0L341.1 453.0L342.1 450.0L343.1 446.9L344.1 443.7L345.1 440.4L346.1 437.1L347.1 433.9L348.1 430.8L349.1 427.9L350.1 425.2L351.1 422.8L352.1 420.6L353.1 418.7L354.1 416.8L355.1 414.9L356.1 413.0L357.1 411.0L358.1 408.9L359.1 406.7L360.1 404.5L361.1 402.4L362.1 400.4L363.1 398.5L364.1 396.9L365.1 395.5L366.1 394.3L367.1 393.3L368.1 392.3L369.1 391.2L370.1 390.0L371.1 388.6L372.1 387.1L373.1 385.4L374.1 383.7L375.1 381.9L376.1 380.3L377.1 378.9L378.1 377.7L379.1 376.7L380.1 375.9L381.1 375.3L382.1 374.7L383.1 374.1L384.1 373.3L385.1 372.4L386.1 371.3L387.1 370.1L388.1 368.9L389.1 367.7L390.1 366.6L391.1 365.8L392.1 365.2L393.1 364.8L394.1 364.7L395.1 364.7L396.1 364.7L397.1 364.7L398.1 364.6L399.1 364.3L400.1 363.8L401.1 363.2L402.1 362.6L403.1 362.0L404.1 361.6L405.1 361.4L406.1 361.5L407.1 361.8L408.1 362.4L409.1 363.1L410.1 363.8L411.1 364.4L412.1 364.8L413.1 365.1L414.1 365.1L415.1 365.1L416.1 364.9L417.1 364.9L418.1 365.0L419.1 365.4L420.1 366.1L421.1 367.1L422.1 368.3L423.1 369.7L424.1 371.1L425.1 372.4L426.1 373.6L427.1 374.5L428.1 375.2L429.1 375.8L430.1 376.3L431.1 376.8L432.1 377.5L433.1 378.5L434.1 379.8L435.1 381.4L436.1 383.2L437.1 385.1L438.1 387.1L439.1 388.9L440.1 390.5L441.1 391.8L442.1 393.0L443.1 394.0L444.1 394.9L445.1 395.9L446.1 397.2L447.1 398.7L448.1 400.5L449.1 402.7L450.1 405.1L451.1 407.7L452.1 410.2L453.1 412.6L454.1 414.8L455.1 416.8L456.1 418.6L457.1 420.2L458.1 421.8L459.1 423.5L460.1 425.5L461.1 427.8L462.1 430.4L463.1 433.4L464.1 436.7L465.1 440.0L466.1 443.4L467.1 446.5L468.1 449.5L469.1 452.1L470.1 454.5L471.1 456.7L472.1 458.8L473.1 461.1L474.1 463.6L475.1 466.4L476.1 469.6L477.1 473.1L478.1 476.8L479.1 480.7L480.1 484.6L481.1 488.2L482.1 491.6L483.1 494.8L484.1 497.6L485.1 500.3L486.1 502.9L487.1 505.7L488.1 508.7L489.1 512.1L490.1 515.8L491.1 519.8L492.1 524.1L493.1 528.5L494.1 532.7L495.1 536.8L496.1 540.6L497.1 544.0L498.1 547.2L499.1 550.2L500.1 553.1L501.1 556.2L502.1 559.5L503.1 563.2L504.1 567.3L505.1 571.7L506.1 576.3L507.1 581.1L508.1 585.7L509.1 590.2L510.1 594.3L511.1 598.2L512.1 601.7L513.1 605.2L514.1 608.7L515.1 612.4L516.1 616.4L517.1 620.9L518.1 625.9L519.1 631.2L520.1 636.8L521.1 642.4L522.1 648.0L523.1 653.3L524.1 658.3L525.1 662.8L526.1 667.0L527.1 671.0L528.1 674.9L529.1 678.9L530.1 683.2L531.1 687.7L532.1 692.7L533.1 697.9L534.1 703.3L535.1 708.6L536.1 713.8L537.1 718.6L538.1 723.0L539.1 727.0L540.1 730.6L541.1 733.9L542.1 737.2L543.1 740.7L544.1 744.4L545.1 748.6L546.1 753.1L547.1 758.0L548.1 763.1L549.1 768.2L550.1 773.1L551.1 777.7L552.1 781.9L553.1 785.7L554.1 789.2L555.1 792.6L556.1 796.1L557.1 799.9L558.1 804.2L559.1 809.1L560.1 814.5L561.1 820.4L562.1 826.6L563.1 832.8L564.1 839.0L565.1 844.8L566.1 850.1L567.1 854.9L568.1 859.3L569.1 863.5L570.1 867.6L571.1 871.8L572.1 876.3L573.1 881.2L574.1 886.6L575.1 892.2L576.1 897.9L577.1 903.6L578.1 909.0L579.1 913.9L580.1 918.2L581.1 922.0L582.1 925.4L583.1 928.6L584.1 931.8L585.1 935.2L586.1 939.0L587.1 943.3L588.1 948.1L589.1 953.3L590.1 958.7L591.1 964.0L592.1 969.1L593.1 973.7L594.1 977.9L595.1 981.5L596.1 984.7L597.1 987.8L598.1 991.0L599.1 994.4L600.1 998.4L601.1 1003.0L602.1 1008.2L603.1 1013.8L604.1 1019.6L605.1 1025.5L606.1 1031.0L607.1 1036.0L608.1 1040.5L609.1 1044.5L610.1 1047.9L611.1 1051.2L612.1 1054.4L613.1 1057.8L614.1 1061.7L615.1 1066.0L616.1 1070.8L617.1 1075.8L618.1 1080.9L619.1 1085.8L620.1 1090.3L621.1 1094.2L622.1 1097.4L623.1 1099.9L624.1 1102.0L625.1 1103.9L626.1 1105.8L627.1 1108.1L628.1 1110.8L629.1 1114.1L630.1 1118.0L631.1 1122.2L632.1 1126.5L633.1 1130.7L634.1 1134.4L635.1 1137.6L636.1 1140.2L637.1 1142.2L638.1 1143.8L639.1 1145.2L640.1 1146.7L641.1 1148.6L642.1 1151.1L643.1 1154.1L644.1 1157.8L645.1 1161.8L646.1 1165.9L647.1 1169.8L648.1 1173.4L649.1 1176.3L650.1 1178.6L651.1 1180.2L652.1 1181.5L653.1 1182.6L654.1 1183.9L655.1 1185.6L656.1 1187.8L657.1 1190.7L658.1 1194.0L659.1 1197.8L660.1 1201.6L661.1 1205.1L662.1 1208.2L663.1 1210.7L664.1 1212.4L665.1 1213.5L666.1 1214.1L667.1 1214.6L668.1 1215.2L669.1 1216.2L670.1 1217.8L671.1 1220.0L672.1 1222.7L673.1 1225.8L674.1 1228.9L675.1 1231.8L676.1 1234.2L677.1 1235.9L678.1 1236.9L679.1 1237.4L680.1 1237.4L681.1 1237.3L682.1 1237.4L683.1 1238.0L684.1 1239.2L685.1 1241.0L686.1 1243.4L687.1 1246.1L688.1 1248.8L689.1 1251.2L690.1 1253.1L691.1 1254.3L692.1 1254.8L693.1 1254.6L694.1 1253.9L695.1 1253.2L696.1 1252.7L697.1 1252.6L698.1 1253.1L699.1 1254.3L700.1 1256.0L701.1 1258.1L702.1 1260.1L703.1 1261.9L704.1 1263.1L705.1 1263.5L706.1 1263.2L707.1 1262.3L708.1 1261.0L709.1 1259.5L710.1 1258.4L711.1 1257.7L712.1 1257.7L713.1 1258.4L714.1 1259.6L715.1 1261.2L716.1 1262.7L717.1 1264.0L718.1 1264.6L719.1 1264.5L720.1 1263.6L721.1 1262.1L722.1 1260.2L723.1 1258.3L724.1 1256.7L725.1 1255.6L726.1 1255.2L727.1 1255.6L728.1 1256.5L729.1 1257.6L730.1 1258.7L731.1 1259.4L732.1 1259.3L733.1 1258.4L734.1 1256.5L735.1 1253.9L736.1 1250.9L737.1 1247.7L738.1 1244.8L739.1 1242.4L740.1 1240.7L741.1 1239.8L742.1 1239.5L743.1 1239.5L744.1 1239.4L745.1 1239.0L746.1 1237.9L747.1 1235.9L748.1 1233.2L749.1 1229.8L750.1 1226.1L751.1 1222.4L752.1 1219.0L753.1 1216.4L754.1 1214.5L755.1 1213.4L756.1 1212.9L757.1 1212.7L758.1 1212.4L759.1 1211.6L760.1 1210.0L761.1 1207.5L762.1 1204.1L763.1 1200.0L764.1 1195.5L765.1 1191.1L766.1 1187.1L767.1 1183.7L768.1 1181.2L769.1 1179.5L770.1 1178.3L771.1 1177.4L772.1 1176.4L773.1 1174.8L774.1 1172.5L775.1 1169.1L776.1 1164.9L777.1 1159.9L778.1 1154.7L779.1 1149.5L780.1 1144.8L781.1 1140.8L782.1 1137.8L783.1 1135.7L784.1 1134.1L785.1 1132.9L786.1 1131.5L787.1 1129.6L788.1 1126.8L789.1 1123.1L790.1 1118.5L791.1 1113.3L792.1 1107.8L793.1 1102.4L794.1 1097.7L795.1 1093.8L796.1 1090.9L797.1 1088.9L798.1 1087.7L799.1 1086.6L800.1 1085.4L801.1 1083.6L802.1 1080.9L803.1 1077.2L804.1 1072.4L805.1 1066.9L806.1 1061.0L807.1 1055.3L808.1 1050.0L809.1 1045.6L810.1 1042.1L811.1 1039.4L812.1 1037.3L813.1 1035.3L814.1 1033.0L815.1 1030.0L816.1 1025.9L817.1 1020.7L818.1 1014.4L819.1 1007.4L820.1 1000.1L821.1 993.0L822.1 986.5L823.1 981.1L824.1 976.7L825.1 973.3L826.1 970.7L827.1 968.2L828.1 965.5L829.1 962.0L830.1 957.6L831.1 951.9L832.1 945.3L833.1 938.1L834.1 930.6L835.1 923.5L836.1 917.3L837.1 912.2L838.1 908.3L839.1 905.6L840.1 903.6L841.1 901.9L842.1 899.9L843.1 897.1L844.1 893.2L845.1 888.0L846.1 881.8L847.1 874.8L848.1 867.5L849.1 860.6L850.1 854.5L851.1 849.5L852.1 845.8L853.1 843.1L854.1 841.0L855.1 839.1L856.1 836.8L857.1 833.5L858.1 828.9L859.1 823.0L860.1 816.0L861.1 808.2L862.1 800.2L863.1 792.7L864.1 786.1L865.1 780.8L866.1 776.8L867.1 774.0L868.1 771.9L869.1 770.0L870.1 767.6L871.1 764.2L872.1 759.4L873.1 753.3L874.1 746.1L875.1 738.1L876.1 730.1L877.1 722.6L878.1 716.1L879.1 711.1L880.1 707.4L881.1 705.0L882.1 703.3L883.1 701.7L884.1 699.6L885.1 696.3L886.1 691.6L887.1 685.4L888.1 677.9L889.1 669.7L890.1 661.4L891.1 653.7L892.1 647.0L893.1 641.8L894.1 638.0L895.1 635.5L896.1 633.6L897.1 631.8L898.1 629.3L899.1 625.6L900.1 620.4L901.1 613.7L902.1 605.8L903.1 597.2L904.1 588.7L905.1 580.9L906.1 574.4L907.1 569.5L908.1 566.3L909.1 564.4L910.1 563.3L911.1 562.2L912.1 560.4L913.1 557.4L914.1 552.8L915.1 546.7L916.1 539.3L917.1 531.2L918.1 523.2L919.1 515.9L920.1 510.1L921.1 505.9L922.1 503.4L923.1 502.1L924.1 501.6L925.1 500.9L926.1 499.3L927.1 496.3L928.1 491.5L929.1 484.9L930.1 476.9L931.1 468.1L932.1 459.4L933.1 451.5L934.1 445.1L935.1 440.4L936.1 437.5L937.1 435.8L938.1 434.9L939.1 433.7L940.1 431.6L941.1 427.9L942.1 422.4L943.1 415.1L944.1 406.4L945.1 397.1L946.1 388.1L947.1 380.1L948.1 373.9L949.1 369.6L950.1 367.3L951.1 366.4L952.1 366.3L953.1 366.0L954.1 364.7L955.1 361.8L956.1 356.9L957.1 350.1L958.1 342.0L959.1 333.4L960.1 325.0L961.1 317.8L962.1 312.5L963.1 309.2L964.1 307.9L965.1 308.0L966.1 308.8L967.1 309.2L968.1 308.5L969.1 305.9L970.1 301.2L971.1 294.6L972.1 286.5L973.1 277.8L974.1 269.5L975.1 262.5L976.1 257.4L977.1 254.5L978.1 253.6L979.1 254.2L980.1 255.4L981.1 256.1L982.1 255.6L983.1 253.1L984.1 248.3L985.1 241.5L986.1 233.3L987.1 224.6L988.1 216.4L989.1 209.7L990.1 205.0L991.1 202.7L992.1 202.4L993.1 203.7L994.1 205.5L995.1 206.8L996.1 206.7L997.1 204.6L998.1 200.1L999.1 193.6L1000.1 185.7L1001.1 177.5L1002.1 169.9L1003.1 163.9L1004.1 160.2L1005.1 159.1L1006.1 160.2L1007.1 162.8L1008.1 165.9L1009.1 168.5L1010.1 169.5L1011.1 168.3L1012.1 164.7L1013.1 159.0L1014.1 151.9L1015.1 144.4L1016.1 137.6L1017.1 132.6L1018.1 129.8L1019.1 129.6L1020.1 131.6L1021.1 135.0L1022.1 138.8L1023.1 141.8L1024.1 143.1L1025.1 142.0L1026.1 138.4L1027.1 132.6L1028.1 125.5L1029.1 118.0L1030.1 111.3L1031.1 106.5L1032.1 104.2L1033.1 104.6L1034.1 107.2L1035.1 111.2L1036.1 115.6L1037.1 119.1L1038.1 120.8L1039.1 120.0L1040.1 116.6L1041.1 111.0L1042.1 104.0L1043.1 96.8L1044.1 90.6L1045.1 86.3L1046.1 84.7L1047.1 85.8L1048.1 89.2L1049.1 94.0L1050.1 99.0L1051.1 103.0L1052.1 105.1L1053.1 104.5L1054.1 101.3L1055.1 95.8L1056.1 89.0L1057.1 82.1L1058.1 76.4L1059.1 72.8L1060.1 71.9L1061.1 73.9L1062.1 78.1L1063.1 83.8L1064.1 89.6L1065.1 94.2L1066.1 96.8L1067.1 96.6L1068.1 93.7L1069.1 88.5L1070.1 82.1L1071.1 75.6L1072.1 70.4L1073.1 67.5L1074.1 67.4L1075.1 70.2L1076.1 75.3L1077.1 81.6L1078.1 88.0L1079.1 93.1L1080.1 95.9L1081.1 95.9L1082.1 93.1L1083.1 88.1L1084.1 82.0L1085.1 75.9L1086.1 71.1L1087.1 68.8L1088.1 69.3L1089.1 72.6L1090.1 78.2L1091.1 85.0L1092.1 91.6L1093.1 96.9L1094.1 99.9L1095.1 100.0L1096.1 97.3L1097.1 92.5L1098.1 86.6L1099.1 80.9L1100.1 76.7L1101.1 75.0L1102.1 76.1L1103.1 80.1L1104.1 86.3L1105.1 93.5L1106.1 100.6L1107.1 106.3L1108.1 109.5L1109.1 109.9L1110.1 107.5L1111.1 103.0L1112.1 97.6L1113.1 92.5L1114.1 89.0L1115.1 88.0L1116.1 89.9L1117.1 94.7L1118.1 101.6L1119.1 109.5L1120.1 117.2L1121.1 123.3L1122.1 126.9L1123.1 127.6L1124.1 125.6L1125.1 121.6L1126.1 116.6L1127.1 112.1L1128.1 109.3L1129.1 109.0L1130.1 111.6L1131.1 117.1L1132.1 124.5L1133.1 132.9L1134.1 140.8L1135.1 147.0L1136.1 150.8L1137.1 151.5L1138.1 149.6L1139.1 145.7L1140.1 141.0L1141.1 136.8L1142.1 134.4L1143.1 134.6L1144.1 137.8L1145.1 143.7L1146.1 151.6L1147.1 160.3L1148.1 168.5L1149.1 174.9L1150.1 178.8L1151.1 179.7L1152.1 177.9L1153.1 174.2L1154.1 169.9L1155.1 166.1L1156.1 164.3L1157.1 165.1L1158.1 169.0L1159.1 175.6L1160.1 184.1L1161.1 193.3L1162.1 201.8L1163.1 208.6L1164.1 212.7L1165.1 213.8L1166.1 212.4L1167.1 209.1L1168.1 205.3L1169.1 202.2L1170.1 201.1L1171.1 202.7L1172.1 207.3L1173.1 214.6L1174.1 223.7L1175.1 233.5L1176.1 242.4L1177.1 249.5L1178.1 253.7L1179.1 255.0L1180.1 253.7L1181.1 250.6L1182.1 247.0L1183.1 244.2L1184.1 243.4L1185.1 245.4L1186.1 250.3L1187.1 257.8L1188.1 267.1L1189.1 276.8L1190.1 285.6L1191.1 292.4L1192.1 296.4L1193.1 297.5L1194.1 296.0L1195.1 292.8L1196.1 289.3L1197.1 286.8L1198.1 286.3L1199.1 288.8L1200.1 294.2L1201.1 302.2L1202.1 311.9L1203.1 321.9L1204.1 331.0L1205.1 337.9L1206.1 342.0L1207.1 343.2L1208.1 341.8L1209.1 338.9L1210.1 335.7L1211.1 333.5L1212.1 333.5L1213.1 336.3L1214.1 342.1L1215.1 350.3L1216.1 360.1L1217.1 370.1L1218.1 379.0L1219.1 385.8L1220.1 389.7L1221.1 390.7L1222.1 389.2L1223.1 386.2L1224.1 383.1L1225.1 381.2L1226.1 381.5L1227.1 384.6L1228.1 390.7L1229.1 399.3L1230.1 409.3L1231.1 419.4L1232.1 428.4L1233.1 435.1L1234.1 439.0L1235.1 440.1L1236.1 438.7L1237.1 436.1L1238.1 433.3L1239.1 431.9L1240.1 432.7L1241.1 436.5L1242.1 443.1L1243.1 452.1L1244.1 462.5L1245.1 472.8L1246.1 481.9L1247.1 488.7L1248.1 492.6L1249.1 493.5L1250.1 492.2L1251.1 489.6L1252.1 487.0L1253.1 485.7L1254.1 486.7L1255.1 490.6L1256.1 497.4L1257.1 506.4L1258.1 516.6L1259.1 526.8L1260.1 535.5L1261.1 541.9L1262.1 545.3L1263.1 545.9L1264.1 544.2L1265.1 541.3L1266.1 538.6L1267.1 537.2L1268.1 538.2L1269.1 542.1L1270.1 548.8L1271.1 557.6L1272.1 567.5L1273.1 577.2L1274.1 585.5L1275.1 591.2L1276.1 594.1L1277.1 594.1L1278.1 592.0L1279.1 588.8L1280.1 585.8L1281.1 584.3L1282.1 585.2L1283.1 589.1L1284.1 595.8L1285.1 604.6L1286.1 614.4L1287.1 624.0L1288.1 632.0L1289.1 637.6L1290.1 640.3L1291.1 640.2L1292.1 638.0L1293.1 634.9L1294.1 632.1L1295.1 630.9L1296.1 632.2L1297.1 636.3L1298.1 643.2L1299.1 652.0L1300.1 661.7L1301.1 670.9L1302.1 678.5L1303.1 683.5L1304.1 685.6L1305.1 684.9L1306.1 682.2L1307.1 678.5L1308.1 675.3L1309.1 673.8L1310.1 674.7L1311.1 678.5L1312.1 685.1L1313.1 693.5L1314.1 702.7L1315.1 711.5L1316.1 718.5L1317.1 722.9L1318.1 724.5L1319.1 723.3L1320.1 720.2L1321.1 716.3L1322.1 713.0L1323.1 711.4L1324.1 712.4L1325.1 716.3L1326.1 723.0L1327.1 731.5L1328.1 740.7L1329.1 749.4L1330.1 756.2L1331.1 760.4L1332.1 761.5L1333.1 760.0L1334.1 756.6L1335.1 752.4L1336.1 748.9L1337.1 747.2L1338.1 748.2L1339.1 752.2L1340.1 758.8L1341.1 767.3L1342.1 776.5L1343.1 784.9L1344.1 791.3L1345.1 795.0L1346.1 795.6L1347.1 793.5L1348.1 789.5L1349.1 784.9L1350.1 781.0L1351.1 779.1L1352.1 780.1L1353.1 784.0L1354.1 790.7L1355.1 799.2L1356.1 808.2L1357.1 816.4L1358.1 822.5L1359.1 825.7L1360.1 825.7L1361.1 823.0L1362.1 818.5L1363.1 813.4L1364.1 809.2L1365.1 807.1L1366.1 807.9L1367.1 811.8L1368.1 818.4L1369.1 826.8L1370.1 835.6L1371.1 843.5L1372.1 849.1L1373.1 851.6L1374.1 851.0L1375.1 847.6L1376.1 842.4L1377.1 836.8L1378.1 832.3L1379.1 829.9L1380.1 830.6L1381.1 834.5L1382.1 841.1L1383.1 849.5L1384.1 858.1L1385.1 865.6L1386.1 870.8L1387.1 872.9L1388.1 871.6L1389.1 867.7L1390.1 861.9L1391.1 855.9L1392.1 851.1L1393.1 848.6L1394.1 849.3L1395.1 853.2L1396.1 859.9L1397.1 868.2L1398.1 876.7L1399.1 883.9L1400.1 888.7L1401.1 890.2L1402.1 888.3L1403.1 883.7L1404.1 877.4L1405.1 870.9L1406.1 865.7L1407.1 863.0L1408.1 863.5L1409.1 867.4L1410.1 873.9L1411.1 882.1L1412.1 890.3L1413.1 897.1L1414.1 901.2L1415.1 902.0L1416.1 899.4L1417.1 894.1L1418.1 887.1L1419.1 880.1L1420.1 874.6L1421.1 871.7L1422.1 872.1L1423.1 876.0L1424.1 882.5L1425.1 890.6L1426.1 898.6L1427.1 905.0L1428.1 908.7L1429.1 908.9L1430.1 905.7L1431.1 899.7L1432.1 892.2L1433.1 884.8L1434.1 878.9L1435.1 875.8L1436.1 876.2L1437.1 880.0L1438.1 886.5L1439.1 894.4L1440.1 902.2L1441.1 908.2L1442.1 911.4L1443.1 911.0L1444.1 907.1L1445.1 900.6L1446.1 892.6L1447.1 884.9L1448.1 878.8L1449.1 875.8L1450.1 876.2L1451.1 880.1L1452.1 886.7L1453.1 894.5L1454.1 902.0L1455.1 907.7L1456.1 910.3L1457.1 909.3L1458.1 904.9L1459.1 897.8L1460.1 889.4L1461.1 881.3L1462.1 875.1L1463.1 871.9L1464.1 872.4L1465.1 876.3L1466.1 882.8L1467.1 890.4L1468.1 897.7L1469.1 902.9L1470.1 905.0L1471.1 903.4L1472.1 898.4L1473.1 890.8L1474.1 882.0L1475.1 873.7L1476.1 867.4L1477.1 864.3L1478.1 864.8L1479.1 868.7L1480.1 875.1L1481.1 882.7L1482.1 889.6L1483.1 894.4L1484.1 896.0L1485.1 893.9L1486.1 888.4L1487.1 880.3L1488.1 871.2L1489.1 862.7L1490.1 856.4L1491.1 853.3L1492.1 853.9L1493.1 857.9L1494.1 864.3L1495.1 871.7L1496.1 878.4L1497.1 882.8L1498.1 883.9L1499.1 881.3L1500.1 875.2L1501.1 866.8L1502.1 857.4L1503.1 848.7L1504.1 842.3L1505.1 839.3L1506.1 839.9L1507.1 844.0L1508.1 850.4L1509.1 857.7L1510.1 864.1L1511.1 868.1L1512.1 868.8L1513.1 865.6L1514.1 859.0L1515.1 850.2L1516.1 840.5L1517.1 831.7L1518.1 825.3L1519.1 822.4L1520.1 823.2L1521.1 827.4L1522.1 833.9L1523.1 841.0L1524.1 847.2L1525.1 850.9L1526.1 851.2L1527.1 847.6L1528.1 840.6L1529.1 831.5L1530.1 821.6L1531.1 812.8L1532.1 806.6L1533.1 803.8L1534.1 804.9L1535.1 809.3L1536.1 815.8L1537.1 823.0L1538.1 829.1L1539.1 832.5L1540.1 832.4L1541.1 828.4L1542.1 821.1L1543.1 811.7L1544.1 801.7L1545.1 792.9L1546.1 786.8L1547.1 784.3L1548.1 785.6L1549.1 790.2L1550.1 796.8L1551.1 804.0L1552.1 809.8L1553.1 812.9L1554.1 812.4L1555.1 808.0L1556.1 800.3L1557.1 790.6L1558.1 780.4L1559.1 771.6L1560.1 765.5L1561.1 763.1L1562.1 764.5L1563.1 769.2L1564.1 775.8L1565.1 782.7L1566.1 788.2L1567.1 790.8L1568.1 789.7L1569.1 784.7L1570.1 776.5L1571.1 766.3L1572.1 755.9L1573.1 746.9L1574.1 740.8L1575.1 738.5L1576.1 740.0L1577.1 744.7L1578.1 751.4L1579.1 758.2L1580.1 763.5L1581.1 765.8L1582.1 764.3L1583.1 759.0L1584.1 750.5L1585.1 740.3L1586.1 730.0L1587.1 721.3L1588.1 715.7L1589.1 714.1L1590.1 716.3L1591.1 721.8L1592.1 729.1L1593.1 736.5L1594.1 742.2L1595.1 744.8L1596.1 743.6L1597.1 738.5L1598.1 730.2L1599.1 720.2L1600.1 710.2L1601.1 701.9L1602.1 696.7L1603.1 695.4L1604.1 698.0L1605.1 703.5L1606.1 710.7L1607.1 717.8L1608.1 722.9L1609.1 724.8L1610.1 722.7L1611.1 716.7L1612.1 707.5L1613.1 696.8L1614.1 686.2L1615.1 677.4L1616.1 672.0L1617.1 670.5L1618.1 672.9L1619.1 678.4L1620.1 685.4L1621.1 692.2L1622.1 697.0L1623.1 698.6L1624.1 696.1L1625.1 689.8L1626.1 680.6L1627.1 669.9L1628.1 659.6L1629.1 651.4L1630.1 646.7L1631.1 646.0L1632.1 649.3L1633.1 655.6L1634.1 663.4L1635.1 670.8L1636.1 676.1L1637.1 678.0L1638.1 675.9L1639.1 669.9L1640.1 661.0L1641.1 650.8L1642.1 641.1L1643.1 633.7L1644.1 629.8L1645.1 630.1L1646.1 634.2L1647.1 641.3L1648.1 649.7L1649.1 657.6L1650.1 663.2L1651.1 665.2L1652.1 663.2L1653.1 657.2L1654.1 648.5L1655.1 638.5L1656.1 629.1L1657.1 622.1L1658.1 618.8L1659.1 619.6L1660.1 624.3L1661.1 631.7L1662.1 640.4L1663.1 648.4L1664.1 653.9L1665.1 655.7L1666.1 653.4L1667.1 647.2L1668.1 638.2L1669.1 628.1L1670.1 618.8L1671.1 612.0L1672.1 608.9L1673.1 610.1L1674.1 615.1L1675.1 622.8L1676.1 631.5L1677.1 639.5L1678.1 644.9L1679.1 646.5L1680.1 643.9L1681.1 637.5L1682.1 628.4L1683.1 618.5L1684.1 609.5L1685.1 603.2L1686.1 600.8L1687.1 602.6L1688.1 608.3L1689.1 616.7L1690.1 626.0L1691.1 634.3L1692.1 639.9L1693.1 641.6L1694.1 639.1L1695.1 632.9L1696.1 624.1L1697.1 614.5L1698.1 606.0L1699.1 600.3L1700.1 598.7L1701.1 601.3L1702.1 607.7L1703.1 616.7L1704.1 626.4L1705.1 635.0L1706.1 640.7L1707.1 642.5L1708.1 640.0L1709.1 633.7L1710.1 625.0L1711.1 615.6L1712.1 607.5L1713.1 602.4L1714.1 601.3L1715.1 604.6L1716.1 611.6L1717.1 621.0L1718.1 631.0L1719.1 639.8L1720.1 645.5L1721.1 647.2L1722.1 644.6L1723.1 638.3L1724.1 629.7L1725.1 620.6L1726.1 612.9L1727.1 608.3L1728.1 607.8L1729.1 611.7L1730.1 619.2L1731.1 629.0L1732.1 639.3L1733.1 648.1L1734.1 653.9L1735.1 655.5L1736.1 652.8L1737.1 646.5L1738.1 638.0L1739.1 629.2L1740.1 622.0L1741.1 618.0L1742.1 618.2L1743.1 622.7L1744.1 630.9L1745.1 641.3L1746.1 651.9L1747.1 660.9L1748.1 666.8L1749.1 668.4L1750.1 665.7L1751.1 659.5L1752.1 651.2L1753.1 642.7L1754.1 636.0L1755.1 632.6L1756.1 633.4L1757.1 638.6L1758.1 647.3L1759.1 658.0L1760.1 668.9L1761.1 678.0L1762.1 683.8L1763.1 685.3L1764.1 682.5L1765.1 676.3L1766.1 668.1L1767.1 659.9L1768.1 653.5L1769.1 650.7L1770.1 652.1L1771.1 657.9L1772.1 667.1L1773.1 678.2L1774.1 689.3L1775.1 698.4L1776.1 704.1L1777.1 705.4L1778.1 702.5L1779.1 696.2L1780.1 688.0L1781.1 679.9L1782.1 673.9L1783.1 671.4L1784.1 673.3L1785.1 679.4L1786.1 688.9L1787.1 700.1L1788.1 711.2L1789.1 720.2L1790.1 725.5L1791.1 726.6L1792.1 723.3L1793.1 716.8L1794.1 708.7L1795.1 700.8L1796.1 695.1L1797.1 693.1L1798.1 695.5L1799.1 702.2L1800.1 712.2L1801.1 723.8L1802.1 735.1L1803.1 744.1L1804.1 749.5L1805.1 750.4L1806.1 747.1L1807.1 740.6L1808.1 732.6L1809.1 725.0L1810.1 719.8L1811.1 718.3L1812.1 721.3L1813.1 728.5L1814.1 738.8L1815.1 750.7L1816.1 762.0L1817.1 770.9L1818.1 776.1L1819.1 776.7L1820.1 773.2L1821.1 766.6L1822.1 758.5L1823.1 751.1L1824.1 746.1L1825.1 745.0L1826.1 748.4L1827.1 756.0L1828.1 766.6L1829.1 778.6L1830.1 789.9L1831.1 798.7L1832.1 803.5L1833.1 803.9L1834.1 800.2L1835.1 793.4L1836.1 785.4L1837.1 778.2L1838.1 773.6L1839.1 773.0L1840.1 777.0L1841.1 785.1L1842.1 796.1L1843.1 808.4L1844.1 819.8L1845.1 828.6L1846.1 833.3L1847.1 833.5L1848.1 829.5L1849.1 822.7L1850.1 814.7L1851.1 807.7L1852.1 803.4L1853.1 803.1L1854.1 807.4L1855.1 815.8L1856.1 827.0L1857.1 839.3L1858.1 850.5L1859.1 858.9L1860.1 863.1L1861.1 862.8L1862.1 858.4L1863.1 851.2L1864.1 843.0L1865.1 835.9L1866.1 831.7L1867.1 831.6L1868.1 836.2L1869.1 844.8L1870.1 856.1L1871.1 868.4L1872.1 879.4L1873.1 887.4L1874.1 891.3L1875.1 890.5L1876.1 885.7L1877.1 878.2L1878.1 869.8L1879.1 862.8L1880.1 858.8L1881.1 859.1L1882.1 863.9L1883.1 872.8L1884.1 884.4L1885.1 896.6L1886.1 907.5L1887.1 915.3L1888.1 918.7L1889.1 917.6L1890.1 912.4L1891.1 904.6L1892.1 896.2L1893.1 889.3L1894.1 885.5L1895.1 886.1L1896.1 891.3L1897.1 900.5L1898.1 912.2L1899.1 924.4L1900.1 935.0L1901.1 942.4L1902.1 945.4L1903.1 943.7L1904.1 938.0L1905.1 929.9L1906.1 921.3L1907.1 914.3L1908.1 910.6L1909.1 911.4L1910.1 916.8L1911.1 926.0L1912.1 937.7L1913.1 949.7L1914.1 960.0L1915.1 966.9L1916.1 969.2L1917.1 967.0L1918.1 960.8L1919.1 952.3L1920.1 943.5L1921.1 936.4L1922.1 932.8L1923.1 933.8L1924.1 939.3L1925.1 948.7L1926.1 960.3L1927.1 972.2L1928.1 982.1L1929.1 988.5L1930.1 990.2L1931.1 987.3L1932.1 980.6L1933.1 971.7L1934.1 962.6L1935.1 955.5L1936.1 951.9L1937.1 953.0L1938.1 958.7L1939.1 968.1L1940.1 979.7L1941.1 991.2L1942.1 1000.8L1943.1 1006.6L1944.1 1007.8L1945.1 1004.3L1946.1 997.1L1947.1 987.8L1948.1 978.5L1949.1 971.3L1950.1 967.9L1951.1 969.1L1952.1 975.0L1953.1 984.5L1954.1 996.0L1955.1 1007.3L1956.1 1016.4L1957.1 1021.6L1958.1 1022.1L1959.1 1017.9L1960.1 1010.1L1961.1 1000.3L1962.1 990.7L1963.1 983.4L1964.1 979.9L1965.1 981.2L1966.1 987.1L1967.1 996.6L1968.1 1007.8L1969.1 1018.8L1970.1 1027.4L1971.1 1032.0L1972.1 1031.9L1973.1 1027.1L1974.1 1018.7L1975.1 1008.6L1976.1 998.8L1977.1 991.5L1978.1 988.2L1979.1 989.6L1980.1 995.6L1981.1 1005.1L1982.1 1016.3L1983.1 1027.0L1984.1 1035.1L1985.1 1039.0L1986.1 1038.2L1987.1 1032.6L1988.1 1023.6L1989.1 1013.0L1990.1 1002.8L1991.1 995.3L1992.1 991.8L1993.1 993.2L1994.1 999.2L1995.1 1008.5L1996.1 1019.3L1997.1 1029.5L1998.1 1036.9L1999.1 1040.1L2000.1 1038.3L2001.1 1032.0L2002.1 1022.4L2003.1 1011.3L2004.1 1000.9L2005.1 993.2L2006.1 989.9L2007.1 991.4L2008.1 997.4L2009.1 1006.7L2010.1 1017.4L2011.1 1027.2L2012.1 1034.1L2013.1 1036.7L2014.1 1034.4L2015.1 1027.6L2016.1 1017.5L2017.1 1006.2L2018.1 995.7L2019.1 988.2L2020.1 985.0L2021.1 986.7L2022.1 992.8L2023.1 1002.1L2024.1 1012.5L2025.1 1021.9L2026.1 1028.2L2027.1 1030.1L2028.1 1027.0L2029.1 1019.4L2030.1 1008.7L2031.1 996.9L2032.1 986.1L2033.1 978.4L2034.1 975.1L2035.1 976.7L2036.1 982.7L2037.1 991.7L2038.1 1001.7L2039.1 1010.5L2040.1 1016.1L2041.1 1017.2L2042.1 1013.3L2043.1 1005.1L2044.1 993.8L2045.1 981.7L2046.1 970.8L2047.1 963.1L2048.1 959.9L2049.1 961.6L2050.1 967.7L2051.1 976.6L2052.1 986.3L2053.1 994.7L2054.1 999.7L2055.1 1000.1L2056.1 995.5L2057.1 986.6L2058.1 974.9L2059.1 962.4L2060.1 951.4L2061.1 943.6L2062.1 940.5L2063.1 942.2L2064.1 948.2L2065.1 956.9L2066.1 966.3L2067.1 974.1L2068.1 978.4L2069.1 978.1L2070.1 972.9L2071.1 963.4L2072.1 951.2L2073.1 938.5L2074.1 927.3L2075.1 919.6L2076.1 916.6L2077.1 918.5L2078.1 924.5L2079.1 933.1L2080.1 942.2L2081.1 949.6L2082.1 953.3L2083.1 952.4L2084.1 946.5L2085.1 936.4L2086.1 923.8L2087.1 910.8L2088.1 899.6L2089.1 891.9L2090.1 889.0L2091.1 891.0L2092.1 897.0L2093.1 905.4L2094.1 914.2L2095.1 921.0L2096.1 924.2L2097.1 922.6L2098.1 916.0L2099.1 905.4L2100.1 892.4L2101.1 879.2L2102.1 867.9L2103.1 860.4L2104.1 857.6L2105.1 859.7L2106.1 865.8L2107.1 874.1L2108.1 882.6L2109.1 889.0L2110.1 891.5L2111.1 889.2L2112.1 882.0L2113.1 870.9L2114.1 857.5L2115.1 844.1L2116.1 832.8L2117.1 825.3L2118.1 822.7L2119.1 824.9L2120.1 830.9L2121.1 839.1L2122.1 847.3L2123.1 853.2L2124.1 855.2L2125.1 852.2L2126.1 844.5L2127.1 832.9L2128.1 819.2L2129.1 805.7L2130.1 794.5L2131.1 787.2L2132.1 784.8L2133.1 787.2L2134.1 793.4L2135.1 801.5L2136.1 809.5L2137.1 815.0L2138.1 816.4L2139.1 813.0L2140.1 804.7L2141.1 792.7L2142.1 778.8L2143.1 765.2L2144.1 754.0L2145.1 747.0L2146.1 744.8L2147.1 747.4L2148.1 753.7L2149.1 761.8L2150.1 769.5L2151.1 774.6L2152.1 775.6L2153.1 771.6L2154.1 762.9L2155.1 750.5L2156.1 736.4L2157.1 722.8L2158.1 711.8L2159.1 705.1L2160.1 703.2L2161.1 706.1L2162.1 712.6L2163.1 720.7L2164.1 728.2L2165.1 733.0L2166.1 733.5L2167.1 729.0L2168.1 719.8L2169.1 707.2L2170.1 693.0L2171.1 679.4L2172.1 668.6L2173.1 662.2L2174.1 660.7L2175.1 663.9L2176.1 670.5L2177.1 678.6L2178.1 685.9L2179.1 690.3L2180.1 690.4L2181.1 685.5L2182.1 675.9L2183.1 662.9L2184.1 648.5L2185.1 635.0L2186.1 624.4L2187.1 618.2L2188.1 617.1L2189.1 620.5L2190.1 627.3L2191.1 635.3L2192.1 642.5L2193.1 646.6L2194.1 646.3L2195.1 640.9L2196.1 631.0L2197.1 617.9L2198.1 603.6L2199.1 590.3L2200.1 580.2L2201.1 574.6L2202.1 574.0L2203.1 578.1L2204.1 585.3L2205.1 593.7L2206.1 600.9L2207.1 605.1L2208.1 604.7L2209.1 599.2L2210.1 589.3L2211.1 576.2L2212.1 562.1L2213.1 549.3L2214.1 539.7L2215.1 534.7L2216.1 534.7L2217.1 539.3L2218.1 546.9L2219.1 555.4L2220.1 562.7L2221.1 566.6L2222.1 565.9L2223.1 560.1L2224.1 549.8L2225.1 536.6L2226.1 522.4L2227.1 509.7L2228.1 500.4L2229.1 495.7L2230.1 496.1L2231.1 500.8L2232.1 508.5L2233.1 517.0L2234.1 523.9L2235.1 527.4L2236.1 526.2L2237.1 519.9L2238.1 509.2L2239.1 495.8L2240.1 481.6L2241.1 469.1L2242.1 460.0L2243.1 455.8L2244.1 456.7L2245.1 461.9L2246.1 469.9L2247.1 478.5L2248.1 485.4L2249.1 488.8L2250.1 487.4L2251.1 481.0L2252.1 470.3L2253.1 457.0L2254.1 443.2L2255.1 431.2L2256.1 422.9L2257.1 419.5L2258.1 421.2L2259.1 427.2L2260.1 435.9L2261.1 445.0L2262.1 452.3L2263.1 455.9L2264.1 454.7L2265.1 448.4L2266.1 438.0L2267.1 425.0L2268.1 411.8L2269.1 400.5L2270.1 393.0L2271.1 390.4L2272.1 392.9L2273.1 399.6L2274.1 408.7L2275.1 418.0L2276.1 425.4L2277.1 428.9L2278.1 427.4L2279.1 420.9L2280.1 410.3L2281.1 397.4L2282.1 384.3L2283.1 373.3L2284.1 366.3L2285.1 364.3L2286.1 367.3L2287.1 374.3L2288.1 383.7L2289.1 393.1L2290.1 400.3L2291.1 403.5L2292.1 401.7L2293.1 395.0L2294.1 384.2L2295.1 371.2L2296.1 358.2L2297.1 347.6L2298.1 341.0L2299.1 339.4L2300.1 342.9L2301.1 350.3L2302.1 359.9L2303.1 369.3L2304.1 376.4L2305.1 379.4L2306.1 377.3L2307.1 370.2L2308.1 359.3L2309.1 346.3L2310.1 333.5L2311.1 323.2L2312.1 317.2L2313.1 316.2L2314.1 320.2L2315.1 328.0L2316.1 337.8L2317.1 347.4L2318.1 354.3L2319.1 357.1L2320.1 354.8L2321.1 347.5L2322.1 336.5L2323.1 323.6L2324.1 311.2L2325.1 301.3L2326.1 295.9L2327.1 295.5L2328.1 300.2L2329.1 308.5L2330.1 318.7L2331.1 328.4L2332.1 335.4L2333.1 338.1L2334.1 335.6L2335.1 328.3L2336.1 317.3L2337.1 304.6L2338.1 292.6L2339.1 283.4L2340.1 278.6L2341.1 279.0L2342.1 284.3L2343.1 293.2L2344.1 303.8L2345.1 313.7L2346.1 320.8L2347.1 323.4L2348.1 320.9L2349.1 313.6L2350.1 302.8L2351.1 290.6L2352.1 279.2L2353.1 270.8L2354.1 267.0"/>
<path stroke="#0072bd" d="M286.1 663.6L287.1 663.2L288.1 662.8L289.1 662.8L290.1 663.1L291.1 664.0L292.1 665.3L293.1 666.8L294.1 668.2L295.1 669.2L296.1 669.6L297.1 669.4L298.1 668.6L299.1 667.5L300.1 666.2L301.1 665.1L302.1 664.3L303.1 664.0L304.1 664.3L305.1 665.1L306.1 666.3L307.1 667.6L308.1 668.7L309.1 669.4L310.1 669.3L311.1 668.5L312.1 666.9L313.1 664.9L314.1 662.9L315.1 661.2L316.1 660.2L317.1 660.1L318.1 660.7L319.1 662.0L320.1 663.5L321.1 664.9L322.1 665.8L323.1 666.0L324.1 665.2L325.1 663.6L326.1 661.4L327.1 659.2L328.1 657.4L329.1 656.2L330.1 656.1L331.1 656.9L332.1 658.5L333.1 660.5L334.1 662.7L335.1 664.7L336.1 666.2L337.1 666.9L338.1 666.8L339.1 666.0L340.1 664.7L341.1 663.4L342.1 662.2L343.1 661.7L344.1 662.1L345.1 663.6L346.1 666.0L347.1 669.0L348.1 672.0L349.1 674.5L350.1 676.2L351.1 676.7L352.1 676.2L353.1 675.0L354.1 673.4L355.1 671.6L356.1 670.0L357.1 668.6L358.1 667.5L359.1 666.6L360.1 665.9L361.1 665.2L362.1 664.6L363.1 664.1L364.1 663.8L365.1 663.7L366.1 663.9L367.1 664.4L368.1 665.1L369.1 665.9L370.1 666.6L371.1 667.1L372.1 667.4L373.1 667.3L374.1 666.9L375.1 666.4L376.1 665.9L377.1 665.5L378.1 665.4L379.1 665.5L380.1 666.0L381.1 666.7L382.1 667.5L383.1 668.3L384.1 669.1L385.1 669.6L386.1 669.9L387.1 669.9L388.1 669.6L389.1 669.2L390.1 668.7L391.1 668.3L392.1 667.9L393.1 667.8L394.1 668.0L395.1 668.5L396.1 669.2L397.1 670.1L398.1 670.9L399.1 671.7L400.1 672.1L401.1 672.3L402.1 672.0L403.1 671.4L404.1 670.5L405.1 669.6L406.1 668.8L407.1 668.2L408.1 667.9L409.1 668.0L410.1 668.4L411.1 669.0L412.1 669.8L413.1 670.5L414.1 671.1L415.1 671.4L416.1 671.6L417.1 671.4L418.1 671.1L419.1 670.7L420.1 670.2L421.1 669.8L422.1 669.5L423.1 669.5L424.1 669.7L425.1 670.1L426.1 670.7L427.1 671.3L428.1 671.9L429.1 672.2L430.1 672.3L431.1 672.1L432.1 671.6L433.1 670.9L434.1 670.2L435.1 669.5L436.1 669.0L437.1 668.7L438.1 668.7L439.1 668.9L440.1 669.3L441.1 669.7L442.1 670.2L443.1 670.6L444.1 670.7L445.1 670.6L446.1 670.2L447.1 669.6L448.1 668.8L449.1 667.9L450.1 667.1L451.1 666.6L452.1 666.2L453.1 666.3L454.1 666.6L455.1 667.1L456.1 667.7L457.1 668.3L458.1 668.8L459.1 669.0L460.1 668.9L461.1 668.5L462.1 667.8L463.1 667.0L464.1 666.2L465.1 665.4L466.1 664.8L467.1 664.6L468.1 664.6L469.1 664.9L470.1 665.4L471.1 665.9L472.1 666.3L473.1 666.5L474.1 666.5L475.1 666.0L476.1 665.4L477.1 664.6L478.1 663.7L479.1 663.0L480.1 662.4L481.1 662.1L482.1 662.1L483.1 662.4L484.1 662.9L485.1 663.6L486.1 664.2L487.1 664.6L488.1 664.9L489.1 664.8L490.1 664.3L491.1 663.7L492.1 662.9L493.1 662.1L494.1 661.5L495.1 661.3L496.1 661.5L497.1 662.0L498.1 662.7L499.1 663.6L500.1 664.4L501.1 665.1L502.1 665.6L503.1 665.7L504.1 665.5L505.1 665.1L506.1 664.6L507.1 664.2L508.1 663.8L509.1 663.7L510.1 663.9L511.1 664.4L512.1 665.1L513.1 665.9L514.1 666.6L515.1 667.2L516.1 667.4L517.1 667.3L518.1 667.0L519.1 666.6L520.1 666.1L521.1 665.5L522.1 665.0L523.1 664.4L524.1 663.9L525.1 663.5L526.1 663.1L527.1 662.7L528.1 662.4L529.1 662.1L530.1 661.9L531.1 661.6L532.1 661.4L533.1 661.2L534.1 661.2L535.1 661.2L536.1 661.6L537.1 662.3L538.1 663.4L539.1 664.6L540.1 666.0L541.1 667.3L542.1 668.5L543.1 669.3L544.1 669.7L545.1 669.6L546.1 669.1L547.1 668.4L548.1 667.5L549.1 666.8L550.1 666.4L551.1 666.4L552.1 666.8L553.1 667.6L554.1 668.6L555.1 669.6L556.1 670.5L557.1 671.1L558.1 671.4L559.1 671.2L560.1 670.5L561.1 669.6L562.1 668.7L563.1 667.8L564.1 667.3L565.1 667.2L566.1 667.6L567.1 668.3L568.1 669.3L569.1 670.3L570.1 671.3L571.1 671.9L572.1 672.2L573.1 672.0L574.1 671.4L575.1 670.5L576.1 669.6L577.1 668.7L578.1 668.1L579.1 668.0L580.1 668.2L581.1 668.9L582.1 669.7L583.1 670.6L584.1 671.4L585.1 672.0L586.1 672.2L587.1 672.1L588.1 671.5L589.1 670.6L590.1 669.6L591.1 668.6L592.1 667.8L593.1 667.3L594.1 667.2L595.1 667.6L596.1 668.3L597.1 669.3L598.1 670.2L599.1 671.0L600.1 671.3L601.1 671.2L602.1 670.7L603.1 669.8L604.1 668.8L605.1 667.8L606.1 666.9L607.1 666.4L608.1 666.4L609.1 666.8L610.1 667.5L611.1 668.4L612.1 669.4L613.1 670.1L614.1 670.5L615.1 670.6L616.1 670.2L617.1 669.6L618.1 668.8L619.1 668.1L620.1 667.5L621.1 667.1L622.1 667.1L623.1 667.5L624.1 668.1L625.1 669.0L626.1 670.0L627.1 671.0L628.1 671.9L629.1 672.6L630.1 673.1L631.1 673.2L632.1 673.2L633.1 673.0L634.1 672.7L635.1 672.3L636.1 671.9L637.1 671.4L638.1 670.9L639.1 670.3L640.1 669.7L641.1 669.1L642.1 668.4L643.1 667.5L644.1 666.6L645.1 665.6L646.1 664.6L647.1 663.5L648.1 662.4L649.1 661.4L650.1 660.4L651.1 659.5L652.1 658.7L653.1 658.0L654.1 657.7L655.1 657.9L656.1 658.4L657.1 659.3L658.1 660.5L659.1 662.0L660.1 663.5L661.1 665.1L662.1 666.7L663.1 668.0L664.1 669.2L665.1 670.0L666.1 670.4L667.1 670.2L668.1 669.4L669.1 667.9L670.1 666.1L671.1 664.2L672.1 662.5L673.1 661.3L674.1 660.9L675.1 661.2L676.1 662.4L677.1 664.1L678.1 666.0L679.1 667.9L680.1 669.3L681.1 670.1L682.1 670.1L683.1 669.2L684.1 667.7L685.1 665.9L686.1 663.9L687.1 662.3L688.1 661.2L689.1 661.0L690.1 661.6L691.1 663.1L692.1 665.1L693.1 667.2L694.1 668.9L695.1 670.0L696.1 670.0L697.1 669.2L698.1 667.6L699.1 665.6L700.1 663.5L701.1 661.7L702.1 660.5L703.1 660.1L704.1 660.6L705.1 661.9L706.1 663.8L707.1 665.8L708.1 667.8L709.1 669.3L710.1 670.1L711.1 670.1L712.1 669.2L713.1 667.6L714.1 665.7L715.1 663.8L716.1 662.2L717.1 661.1L718.1 661.0L719.1 661.7L720.1 663.3L721.1 665.3L722.1 667.3L723.1 669.0L724.1 670.0L725.1 670.1L726.1 669.3L727.1 667.9L728.1 666.1L729.1 664.3L730.1 662.8L731.1 661.8L732.1 661.6L733.1 662.2L734.1 663.4L735.1 665.0L736.1 666.7L737.1 668.3L738.1 669.6L739.1 670.3L740.1 670.5L741.1 670.2L742.1 669.6L743.1 668.9L744.1 668.3L745.1 667.9L746.1 668.0L747.1 668.5L748.1 669.4L749.1 670.6L750.1 671.9L751.1 673.1L752.1 674.2L753.1 675.1L754.1 675.6L755.1 675.8L756.1 675.7L757.1 675.6L758.1 675.3L759.1 675.0L760.1 674.5L761.1 674.0L762.1 673.5L763.1 672.9L764.1 672.2L765.1 671.5L766.1 670.7L767.1 669.7L768.1 668.5L769.1 667.1L770.1 665.7L771.1 664.3L772.1 663.1L773.1 662.1L774.1 661.4L775.1 661.2L776.1 661.5L777.1 662.3L778.1 663.4L779.1 664.8L780.1 666.4L781.1 667.9L782.1 669.4L783.1 670.7L784.1 671.6L785.1 672.1L786.1 672.2L787.1 671.9L788.1 671.3L789.1 670.5L790.1 669.7L791.1 669.1L792.1 668.8L793.1 668.7L794.1 668.9L795.1 669.4L796.1 669.9L797.1 670.3L798.1 670.6L799.1 670.6L800.1 670.2L801.1 669.5L802.1 668.5L803.1 667.4L804.1 666.3L805.1 665.4L806.1 664.8L807.1 664.7L808.1 665.2L809.1 666.0L810.1 667.0L811.1 667.9L812.1 668.6L813.1 668.8L814.1 668.5L815.1 667.7L816.1 666.6L817.1 665.3L818.1 664.0L819.1 663.0L820.1 662.4L821.1 662.3L822.1 662.6L823.1 663.4L824.1 664.5L825.1 665.5L826.1 666.4L827.1 667.0L828.1 667.2L829.1 666.8L830.1 665.9L831.1 664.8L832.1 663.5L833.1 662.2L834.1 661.2L835.1 660.7L836.1 660.7L837.1 661.3L838.1 662.3L839.1 663.4L840.1 664.5L841.1 665.2L842.1 665.5L843.1 665.1L844.1 664.3L845.1 663.1L846.1 661.8L847.1 660.6L848.1 659.6L849.1 659.0L850.1 659.0L851.1 659.4L852.1 660.2L853.1 661.2L854.1 662.2L855.1 663.1L856.1 663.7L857.1 663.9L858.1 663.7L859.1 663.1L860.1 662.3L861.1 661.5L862.1 660.9L863.1 660.5L864.1 660.7L865.1 661.2L866.1 662.1L867.1 663.2L868.1 664.3L869.1 665.4L870.1 666.1L871.1 666.5L872.1 666.5L873.1 666.1L874.1 665.6L875.1 665.0L876.1 664.4L877.1 663.9L878.1 663.7L879.1 663.9L880.1 664.3L881.1 665.0L882.1 665.7L883.1 666.5L884.1 667.0L885.1 667.2L886.1 667.0L887.1 666.4L888.1 665.4L889.1 664.4L890.1 663.6L891.1 663.1L892.1 663.1L893.1 663.7L894.1 664.5L895.1 665.6L896.1 666.7L897.1 667.5L898.1 668.1L899.1 668.3L900.1 668.3L901.1 668.2L902.1 668.0L903.1 667.9L904.1 667.7L905.1 667.6L906.1 667.6L907.1 667.7L908.1 667.9L909.1 668.3L910.1 668.7L911.1 669.2L912.1 669.8L913.1 670.2L914.1 670.6L915.1 670.8L916.1 670.9L917.1 670.8L918.1 670.6L919.1 670.3L920.1 670.0L921.1 669.7L922.1 669.5L923.1 669.4L924.1 669.4L925.1 669.5L926.1 669.7L927.1 670.0L928.1 670.3L929.1 670.6L930.1 670.9L931.1 671.2L932.1 671.5L933.1 671.6L934.1 671.7L935.1 671.6L936.1 671.4L937.1 671.1L938.1 670.8L939.1 670.6L940.1 670.4L941.1 670.3L942.1 670.4L943.1 670.7L944.1 671.3L945.1 672.0L946.1 672.8L947.1 673.4L948.1 673.8L949.1 673.7L950.1 673.2L951.1 672.0L952.1 670.5L953.1 668.9L954.1 667.6L955.1 666.7L956.1 666.4L957.1 666.8L958.1 667.6L959.1 668.7L960.1 669.6L961.1 670.3L962.1 670.5L963.1 670.1L964.1 669.3L965.1 668.1L966.1 666.8L967.1 665.6L968.1 664.6L969.1 664.0L970.1 664.0L971.1 664.5L972.1 665.5L973.1 666.6L974.1 667.7L975.1 668.5L976.1 668.8L977.1 668.7L978.1 668.1L979.1 667.2L980.1 666.2L981.1 665.2L982.1 664.4L983.1 663.9L984.1 663.8L985.1 664.2L986.1 664.8L987.1 665.7L988.1 666.6L989.1 667.4L990.1 667.9L991.1 668.1L992.1 667.8L993.1 667.1L994.1 666.0L995.1 664.9L996.1 663.8L997.1 662.9L998.1 662.3L999.1 662.3L1000.1 662.7L1001.1 663.5L1002.1 664.5L1003.1 665.4L1004.1 666.1L1005.1 666.3L1006.1 666.0L1007.1 665.2L1008.1 664.1L1009.1 662.7L1010.1 661.5L1011.1 660.5L1012.1 659.9L1013.1 659.8L1014.1 660.2L1015.1 661.0L1016.1 661.9L1017.1 663.0L1018.1 663.9L1019.1 664.5L1020.1 664.8L1021.1 664.7L1022.1 664.3L1023.1 663.6L1024.1 662.9L1025.1 662.2L1026.1 661.6L1027.1 661.3L1028.1 661.4L1029.1 661.9L1030.1 662.8L1031.1 663.8L1032.1 664.9L1033.1 665.7L1034.1 666.2L1035.1 666.2L1036.1 665.6L1037.1 664.4L1038.1 663.1L1039.1 662.0L1040.1 661.4L1041.1 661.2L1042.1 661.4L1043.1 661.7L1044.1 662.2L1045.1 662.7L1046.1 663.2L1047.1 663.6L1048.1 664.0L1049.1 664.1L1050.1 664.0L1051.1 663.7L1052.1 663.0L1053.1 662.2L1054.1 661.4L1055.1 660.7L1056.1 660.4L1057.1 660.4L1058.1 660.8L1059.1 661.6L1060.1 662.5L1061.1 663.6L1062.1 664.8L1063.1 665.9L1064.1 666.9L1065.1 667.8L1066.1 668.5L1067.1 669.3L1068.1 670.0L1069.1 670.6L1070.1 671.3L1071.1 671.8L1072.1 672.4L1073.1 672.9L1074.1 673.3L1075.1 673.7L1076.1 674.0L1077.1 673.9L1078.1 673.5L1079.1 672.7L1080.1 671.6L1081.1 670.3L1082.1 669.0L1083.1 667.9L1084.1 667.0L1085.1 666.5L1086.1 666.6L1087.1 667.3L1088.1 668.5L1089.1 669.9L1090.1 671.3L1091.1 672.4L1092.1 672.9L1093.1 672.7L1094.1 671.9L1095.1 670.8L1096.1 669.4L1097.1 668.1L1098.1 667.1L1099.1 666.5L1100.1 666.7L1101.1 667.5L1102.1 668.8L1103.1 670.4L1104.1 671.9L1105.1 673.1L1106.1 673.7L1107.1 673.5L1108.1 672.8L1109.1 671.7L1110.1 670.3L1111.1 669.0L1112.1 668.0L1113.1 667.4L1114.1 667.3L1115.1 667.9L1116.1 668.9L1117.1 670.2L1118.1 671.5L1119.1 672.7L1120.1 673.5L1121.1 673.7L1122.1 673.4L1123.1 672.5L1124.1 671.2L1125.1 669.8L1126.1 668.4L1127.1 667.2L1128.1 666.6L1129.1 666.5L1130.1 667.1L1131.1 668.1L1132.1 669.4L1133.1 670.8L1134.1 672.0L1135.1 672.7L1136.1 672.8L1137.1 672.3L1138.1 671.2L1139.1 669.7L1140.1 668.1L1141.1 666.8L1142.1 665.9L1143.1 665.7L1144.1 666.1L1145.1 667.0L1146.1 668.2L1147.1 669.5L1148.1 670.5L1149.1 671.2L1150.1 671.3L1151.1 670.7L1152.1 669.7L1153.1 668.3L1154.1 666.7L1155.1 665.3L1156.1 664.0L1157.1 663.2L1158.1 662.9L1159.1 663.0L1160.1 663.4L1161.1 664.0L1162.1 664.7L1163.1 665.3L1164.1 665.7L1165.1 665.8L1166.1 665.5L1167.1 664.8L1168.1 663.7L1169.1 662.5L1170.1 661.3L1171.1 660.4L1172.1 659.8L1173.1 659.6L1174.1 659.7L1175.1 660.0L1176.1 660.4L1177.1 660.8L1178.1 661.1L1179.1 661.1L1180.1 661.0L1181.1 660.7L1182.1 660.3L1183.1 659.9L1184.1 659.6L1185.1 659.5L1186.1 659.6L1187.1 660.0L1188.1 660.6L1189.1 661.4L1190.1 662.4L1191.1 663.3L1192.1 664.3L1193.1 665.2L1194.1 665.9L1195.1 666.4L1196.1 666.8L1197.1 666.9L1198.1 667.0L1199.1 666.9L1200.1 666.8L1201.1 666.5L1202.1 666.2L1203.1 665.8L1204.1 665.2L1205.1 664.4L1206.1 663.4L1207.1 662.3L1208.1 661.3L1209.1 660.4L1210.1 659.8L1211.1 659.7L1212.1 660.1L1213.1 661.0L1214.1 662.1L1215.1 663.4L1216.1 664.5L1217.1 665.2L1218.1 665.5L1219.1 665.3L1220.1 664.6L1221.1 663.6L1222.1 662.6L1223.1 661.9L1224.1 661.4L1225.1 661.5L1226.1 662.1L1227.1 663.0L1228.1 664.2L1229.1 665.6L1230.1 666.8L1231.1 667.9L1232.1 668.6L1233.1 668.9L1234.1 668.7L1235.1 668.1L1236.1 667.3L1237.1 666.3L1238.1 665.5L1239.1 664.9L1240.1 664.7L1241.1 665.0L1242.1 665.9L1243.1 667.1L1244.1 668.5L1245.1 669.9L1246.1 671.1L1247.1 671.9L1248.1 672.1L1249.1 671.8L1250.1 671.1L1251.1 670.1L1252.1 669.1L1253.1 668.4L1254.1 668.1L1255.1 668.3L1256.1 669.0L1257.1 670.1L1258.1 671.4L1259.1 672.6L1260.1 673.7L1261.1 674.4L1262.1 674.6L1263.1 674.3L1264.1 673.6L1265.1 672.7L1266.1 671.7L1267.1 671.0L1268.1 670.5L1269.1 670.6L1270.1 671.1L1271.1 671.9L1272.1 672.9L1273.1 674.0L1274.1 674.8L1275.1 675.4L1276.1 675.4L1277.1 674.9L1278.1 673.9L1279.1 672.6L1280.1 671.1L1281.1 669.8L1282.1 668.7L1283.1 668.1L1284.1 668.1L1285.1 668.7L1286.1 669.5L1287.1 670.5L1288.1 671.4L1289.1 672.0L1290.1 672.2L1291.1 671.8L1292.1 671.1L1293.1 670.0L1294.1 668.9L1295.1 667.8L1296.1 666.9L1297.1 666.4L1298.1 666.2L1299.1 666.5L1300.1 667.0L1301.1 667.6L1302.1 668.3L1303.1 669.0L1304.1 669.6L1305.1 670.1L1306.1 670.5L1307.1 670.9L1308.1 671.2L1309.1 671.5L1310.1 671.8L1311.1 672.0L1312.1 672.2L1313.1 672.4L1314.1 672.5L1315.1 672.6L1316.1 672.6L1317.1 672.6L1318.1 672.4L1319.1 672.0L1320.1 671.2L1321.1 670.1L1322.1 668.7L1323.1 667.2L1324.1 665.6L1325.1 664.2L1326.1 662.9L1327.1 661.9L1328.1 661.4L1329.1 661.4L1330.1 661.9L1331.1 662.7L1332.1 663.6L1333.1 664.3L1334.1 664.7L1335.1 664.5L1336.1 663.7L1337.1 662.5L1338.1 661.1L1339.1 659.9L1340.1 659.1L1341.1 659.0L1342.1 659.4L1343.1 660.2L1344.1 661.2L1345.1 662.3L1346.1 663.2L1347.1 663.8L1348.1 663.9L1349.1 663.4L1350.1 662.6L1351.1 661.5L1352.1 660.4L1353.1 659.5L1354.1 659.0L1355.1 659.0L1356.1 659.4L1357.1 660.2L1358.1 661.2L1359.1 662.2L1360.1 663.1L1361.1 663.7L1362.1 663.9L1363.1 663.5L1364.1 662.7L1365.1 661.6L1366.1 660.5L1367.1 659.6L1368.1 659.0L1369.1 659.0L1370.1 659.6L1371.1 660.6L1372.1 661.8L1373.1 663.1L1374.1 664.3L1375.1 665.1L1376.1 665.6L1377.1 665.5L1378.1 665.0L1379.1 664.1L1380.1 663.2L1381.1 662.3L1382.1 661.7L1383.1 661.4L1384.1 661.6L1385.1 662.4L1386.1 663.5L1387.1 664.9L1388.1 666.3L1389.1 667.6L1390.1 668.5L1391.1 668.8L1392.1 668.6L1393.1 667.8L1394.1 666.8L1395.1 665.6L1396.1 664.4L1397.1 663.6L1398.1 663.1L1399.1 663.2L1400.1 663.8L1401.1 664.8L1402.1 666.0L1403.1 667.1L1404.1 668.1L1405.1 668.7L1406.1 668.7L1407.1 668.2L1408.1 667.2L1409.1 665.9L1410.1 664.6L1411.1 663.6L1412.1 663.1L1413.1 663.2L1414.1 663.7L1415.1 664.5L1416.1 665.4L1417.1 666.2L1418.1 666.9L1419.1 667.4L1420.1 667.6L1421.1 667.7L1422.1 667.7L1423.1 667.6L1424.1 667.5L1425.1 667.7L1426.1 668.0L1427.1 668.7L1428.1 669.8L1429.1 671.1L1430.1 672.6L1431.1 674.2L1432.1 675.6L1433.1 676.8L1434.1 677.6L1435.1 678.0L1436.1 677.8L1437.1 677.2L1438.1 676.1L1439.1 674.9L1440.1 673.7L1441.1 672.6L1442.1 671.8L1443.1 671.2L1444.1 670.7L1445.1 670.2L1446.1 669.9L1447.1 669.6L1448.1 669.5L1449.1 669.5L1450.1 669.8L1451.1 670.2L1452.1 670.7L1453.1 671.1L1454.1 671.5L1455.1 671.6L1456.1 671.4L1457.1 670.9L1458.1 670.3L1459.1 669.6L1460.1 668.9L1461.1 668.3L1462.1 668.0L1463.1 667.9L1464.1 668.1L1465.1 668.6L1466.1 669.2L1467.1 669.8L1468.1 670.3L1469.1 670.6L1470.1 670.6L1471.1 670.3L1472.1 669.6L1473.1 668.7L1474.1 667.8L1475.1 667.0L1476.1 666.4L1477.1 666.3L1478.1 666.4L1479.1 666.9L1480.1 667.5L1481.1 668.1L1482.1 668.6L1483.1 669.0L1484.1 669.0L1485.1 668.7L1486.1 668.0L1487.1 667.1L1488.1 666.1L1489.1 665.1L1490.1 664.4L1491.1 663.9L1492.1 663.9L1493.1 664.3L1494.1 665.0L1495.1 665.8L1496.1 666.6L1497.1 667.1L1498.1 667.3L1499.1 667.1L1500.1 666.6L1501.1 665.8L1502.1 664.9L1503.1 664.0L1504.1 663.1L1505.1 662.5L1506.1 662.2L1507.1 662.2L1508.1 662.6L1509.1 663.1L1510.1 663.8L1511.1 664.4L1512.1 664.8L1513.1 664.9L1514.1 664.6L1515.1 664.0L1516.1 663.2L1517.1 662.4L1518.1 661.6L1519.1 660.9L1520.1 660.5L1521.1 660.4L1522.1 660.6L1523.1 660.9L1524.1 661.3L1525.1 661.6L1526.1 661.6L1527.1 661.5L1528.1 661.1L1529.1 660.5L1530.1 659.8L1531.1 659.1L1532.1 658.5L1533.1 658.1L1534.1 657.9L1535.1 658.0L1536.1 658.3L1537.1 658.8L1538.1 659.3L1539.1 659.9L1540.1 660.5L1541.1 661.0L1542.1 661.5L1543.1 661.8L1544.1 662.1L1545.1 662.2L1546.1 662.3L1547.1 662.4L1548.1 662.5L1549.1 662.7L1550.1 663.2L1551.1 663.9L1552.1 664.9L1553.1 666.1L1554.1 667.4L1555.1 668.6L1556.1 669.6L1557.1 670.3L1558.1 670.6L1559.1 670.2L1560.1 669.4L1561.1 668.2L1562.1 666.8L1563.1 665.4L1564.1 664.2L1565.1 663.4L1566.1 663.1L1567.1 663.2L1568.1 663.8L1569.1 664.6L1570.1 665.5L1571.1 666.4L1572.1 667.2L1573.1 667.8L1574.1 668.2L1575.1 668.2L1576.1 667.9L1577.1 667.3L1578.1 666.6L1579.1 665.8L1580.1 665.2L1581.1 664.8L1582.1 664.6L1583.1 665.0L1584.1 665.9L1585.1 667.3L1586.1 668.8L1587.1 670.3L1588.1 671.4L1589.1 672.0L1590.1 671.9L1591.1 671.1L1592.1 670.1L1593.1 669.0L1594.1 668.3L1595.1 668.2L1596.1 668.8L1597.1 670.0L1598.1 671.3L1599.1 672.6L1600.1 673.4L1601.1 673.7L1602.1 673.3L1603.1 672.4L1604.1 671.3L1605.1 670.1L1606.1 669.3L1607.1 669.1L1608.1 669.5L1609.1 670.8L1610.1 672.4L1611.1 674.1L1612.1 675.4L1613.1 676.0L1614.1 675.8L1615.1 674.9L1616.1 673.5L1617.1 672.1L1618.1 670.8L1619.1 670.0L1620.1 669.8L1621.1 670.3L1622.1 671.3L1623.1 672.6L1624.1 673.9L1625.1 675.1L1626.1 675.9L1627.1 676.2L1628.1 675.8L1629.1 674.9L1630.1 673.5L1631.1 671.9L1632.1 670.4L1633.1 669.1L1634.1 668.3L1635.1 668.2L1636.1 668.8L1637.1 669.9L1638.1 671.2L1639.1 672.5L1640.1 673.4L1641.1 673.6L1642.1 673.1L1643.1 672.0L1644.1 670.4L1645.1 668.6L1646.1 667.1L1647.1 666.0L1648.1 665.6L1649.1 665.7L1650.1 666.1L1651.1 666.8L1652.1 667.5L1653.1 668.0L1654.1 668.2L1655.1 668.0L1656.1 667.6L1657.1 667.0L1658.1 666.2L1659.1 665.4L1660.1 664.7L1661.1 664.1L1662.1 663.8L1663.1 663.7L1664.1 663.9L1665.1 664.3L1666.1 664.9L1667.1 665.5L1668.1 666.1L1669.1 666.4L1670.1 666.6L1671.1 666.5L1672.1 666.2L1673.1 665.7L1674.1 665.1L1675.1 664.5L1676.1 664.0L1677.1 663.4L1678.1 663.1L1679.1 662.8L1680.1 662.9L1681.1 663.1L1682.1 663.5L1683.1 663.9L1684.1 664.4L1685.1 664.7L1686.1 664.9L1687.1 664.8L1688.1 664.4L1689.1 663.8L1690.1 663.0L1691.1 662.1L1692.1 661.4L1693.1 660.8L1694.1 660.5L1695.1 660.5L1696.1 660.7L1697.1 661.1L1698.1 661.6L1699.1 662.0L1700.1 662.2L1701.1 662.3L1702.1 662.1L1703.1 661.8L1704.1 661.4L1705.1 661.0L1706.1 660.7L1707.1 660.6L1708.1 660.7L1709.1 661.1L1710.1 661.5L1711.1 662.0L1712.1 662.4L1713.1 662.8L1714.1 663.0L1715.1 663.2L1716.1 663.3L1717.1 663.4L1718.1 663.6L1719.1 663.7L1720.1 663.8L1721.1 663.9L1722.1 664.1L1723.1 664.2L1724.1 664.2L1725.1 664.3L1726.1 664.4L1727.1 664.6L1728.1 664.6L1729.1 664.6L1730.1 664.4L1731.1 664.2L1732.1 663.8L1733.1 663.5L1734.1 663.3L1735.1 663.2L1736.1 663.3L1737.1 663.7L1738.1 664.1L1739.1 664.7L1740.1 665.2L1741.1 665.7L1742.1 666.2L1743.1 666.6L1744.1 667.0L1745.1 667.5L1746.1 668.0L1747.1 668.5L1748.1 668.8L1749.1 669.1L1750.1 669.2L1751.1 669.2L1752.1 669.2L1753.1 669.1L1754.1 669.0L1755.1 669.0L1756.1 669.2L1757.1 669.5L1758.1 669.9L1759.1 670.5L1760.1 671.0L1761.1 671.5L1762.1 671.8L1763.1 671.9L1764.1 671.8L1765.1 671.5L1766.1 671.1L1767.1 670.7L1768.1 670.3L1769.1 670.1L1770.1 670.1L1771.1 670.2L1772.1 670.5L1773.1 670.9L1774.1 671.3L1775.1 671.7L1776.1 671.9L1777.1 672.0L1778.1 671.9L1779.1 671.7L1780.1 671.5L1781.1 671.3L1782.1 671.1L1783.1 671.2L1784.1 671.4L1785.1 671.7L1786.1 672.1L1787.1 672.6L1788.1 673.0L1789.1 673.3L1790.1 673.3L1791.1 673.2L1792.1 672.9L1793.1 672.3L1794.1 671.7L1795.1 671.1L1796.1 670.5L1797.1 670.0L1798.1 669.7L1799.1 669.5L1800.1 669.5L1801.1 669.5L1802.1 669.6L1803.1 669.6L1804.1 669.5L1805.1 669.3L1806.1 668.9L1807.1 668.5L1808.1 668.0L1809.1 667.6L1810.1 667.3L1811.1 667.1L1812.1 667.1L1813.1 667.3L1814.1 667.6L1815.1 668.0L1816.1 668.4L1817.1 668.7L1818.1 668.8L1819.1 668.6L1820.1 668.2L1821.1 667.6L1822.1 666.9L1823.1 666.4L1824.1 666.0L1825.1 665.9L1826.1 666.2L1827.1 666.7L1828.1 667.4L1829.1 668.0L1830.1 668.6L1831.1 669.0L1832.1 669.3L1833.1 669.4L1834.1 669.5L1835.1 669.5L1836.1 669.5L1837.1 669.4L1838.1 669.3L1839.1 669.1L1840.1 668.8L1841.1 668.5L1842.1 668.2L1843.1 667.9L1844.1 667.5L1845.1 667.2L1846.1 666.8L1847.1 666.4L1848.1 666.0L1849.1 665.5L1850.1 665.0L1851.1 664.3L1852.1 663.6L1853.1 662.9L1854.1 662.1L1855.1 661.3L1856.1 660.5L1857.1 659.7L1858.1 658.9L1859.1 658.3L1860.1 657.7L1861.1 657.2L1862.1 657.2L1863.1 657.6L1864.1 658.5L1865.1 659.8L1866.1 661.4L1867.1 663.1L1868.1 664.8L1869.1 666.2L1870.1 667.3L1871.1 667.9L1872.1 667.8L1873.1 667.0L1874.1 665.7L1875.1 664.1L1876.1 662.4L1877.1 661.0L1878.1 660.2L1879.1 660.0L1880.1 660.6L1881.1 661.8L1882.1 663.4L1883.1 665.2L1884.1 666.8L1885.1 668.0L1886.1 668.6L1887.1 668.4L1888.1 667.4L1889.1 665.9L1890.1 664.2L1891.1 662.4L1892.1 661.0L1893.1 660.1L1894.1 660.1L1895.1 660.8L1896.1 662.2L1897.1 664.0L1898.1 665.9L1899.1 667.6L1900.1 668.9L1901.1 669.4L1902.1 669.2L1903.1 668.3L1904.1 666.9L1905.1 665.2L1906.1 663.6L1907.1 662.4L1908.1 661.7L1909.1 661.8L1910.1 662.6L1911.1 664.0L1912.1 665.8L1913.1 667.7L1914.1 669.4L1915.1 670.6L1916.1 671.1L1917.1 670.8L1918.1 669.9L1919.1 668.4L1920.1 666.7L1921.1 665.2L1922.1 663.9L1923.1 663.4L1924.1 663.6L1925.1 664.7L1926.1 666.4L1927.1 668.5L1928.1 670.4L1929.1 671.9L1930.1 672.6L1931.1 672.4L1932.1 671.4L1933.1 669.8L1934.1 667.9L1935.1 666.2L1936.1 664.8L1937.1 664.2L1938.1 664.6L1939.1 665.9L1940.1 667.8L1941.1 670.2L1942.1 672.4L1943.1 674.1L1944.1 675.1L1945.1 675.3L1946.1 674.8L1947.1 673.9L1948.1 672.7L1949.1 671.7L1950.1 670.8L1951.1 670.5L1952.1 670.9L1953.1 671.9L1954.1 673.5L1955.1 675.3L1956.1 677.1L1957.1 678.6L1958.1 679.4L1959.1 679.6L1960.1 679.3L1961.1 678.6L1962.1 677.9L1963.1 677.1L1964.1 676.3L1965.1 675.4L1966.1 674.5L1967.1 673.6L1968.1 672.7L1969.1 671.8L1970.1 670.8L1971.1 669.8L1972.1 668.7L1973.1 667.7L1974.1 666.6L1975.1 665.5L1976.1 664.5L1977.1 663.5L1978.1 662.6L1979.1 661.7L1980.1 661.1L1981.1 660.8L1982.1 660.8L1983.1 661.3L1984.1 662.0L1985.1 663.1L1986.1 664.2L1987.1 665.5L1988.1 666.8L1989.1 668.0L1990.1 669.1L1991.1 669.9L1992.1 670.5L1993.1 670.7L1994.1 670.5L1995.1 670.0L1996.1 669.4L1997.1 668.5L1998.1 667.6L1999.1 666.7L2000.1 665.9L2001.1 665.2L2002.1 664.7L2003.1 664.6L2004.1 664.9L2005.1 665.6L2006.1 666.5L2007.1 667.5L2008.1 668.3L2009.1 668.8L2010.1 668.7L2011.1 668.1L2012.1 667.0L2013.1 665.7L2014.1 664.2L2015.1 662.9L2016.1 661.9L2017.1 661.4L2018.1 661.5L2019.1 662.0L2020.1 662.8L2021.1 663.7L2022.1 664.6L2023.1 665.3L2024.1 665.6L2025.1 665.4L2026.1 664.6L2027.1 663.5L2028.1 662.1L2029.1 660.7L2030.1 659.5L2031.1 658.5L2032.1 658.1L2033.1 658.2L2034.1 658.9L2035.1 659.8L2036.1 660.9L2037.1 661.9L2038.1 662.7L2039.1 663.0L2040.1 662.7L2041.1 661.8L2042.1 660.4L2043.1 658.8L2044.1 657.3L2045.1 656.2L2046.1 655.8L2047.1 655.9L2048.1 656.7L2049.1 657.9L2050.1 659.2L2051.1 660.5L2052.1 661.5L2053.1 662.1L2054.1 662.0L2055.1 661.3L2056.1 660.2L2057.1 658.9L2058.1 657.7L2059.1 656.9L2060.1 656.6L2061.1 657.0L2062.1 658.1L2063.1 659.6L2064.1 661.3L2065.1 663.0L2066.1 664.4L2067.1 665.2L2068.1 665.5L2069.1 665.1L2070.1 664.3L2071.1 663.3L2072.1 662.3L2073.1 661.6L2074.1 661.4L2075.1 661.8L2076.1 662.8L2077.1 664.1L2078.1 665.5L2079.1 667.0L2080.1 668.3L2081.1 669.3L2082.1 669.7L2083.1 669.6L2084.1 669.1L2085.1 668.3L2086.1 667.4L2087.1 666.4L2088.1 665.6L2089.1 664.9L2090.1 664.4L2091.1 664.1L2092.1 663.8L2093.1 663.6L2094.1 663.5L2095.1 663.5L2096.1 663.5L2097.1 663.5L2098.1 663.7L2099.1 663.9L2100.1 664.2L2101.1 664.7L2102.1 665.5L2103.1 666.6L2104.1 667.9L2105.1 669.3L2106.1 670.6L2107.1 671.8L2108.1 672.6L2109.1 673.1L2110.1 673.2L2111.1 672.9L2112.1 672.4L2113.1 671.8L2114.1 671.4L2115.1 671.2L2116.1 671.2L2117.1 671.5L2118.1 672.1L2119.1 672.7L2120.1 673.3L2121.1 673.9L2122.1 674.5L2123.1 674.8L2124.1 674.8L2125.1 674.6L2126.1 674.1L2127.1 673.5L2128.1 672.9L2129.1 672.4L2130.1 672.1L2131.1 672.0L2132.1 672.3L2133.1 672.7L2134.1 673.3L2135.1 673.9L2136.1 674.4L2137.1 674.8L2138.1 674.8L2139.1 674.5L2140.1 673.9L2141.1 673.2L2142.1 672.3L2143.1 671.5L2144.1 670.8L2145.1 670.4L2146.1 670.4L2147.1 670.6L2148.1 671.1L2149.1 671.7L2150.1 672.3L2151.1 672.9L2152.1 673.1L2153.1 673.1L2154.1 672.7L2155.1 672.0L2156.1 671.1L2157.1 670.1L2158.1 669.2L2159.1 668.4L2160.1 668.0L2161.1 667.9L2162.1 668.1L2163.1 668.6L2164.1 669.3L2165.1 669.9L2166.1 670.4L2167.1 670.6L2168.1 670.5L2169.1 669.9L2170.1 668.9L2171.1 667.7L2172.1 666.4L2173.1 665.3L2174.1 664.4L2175.1 663.9L2176.1 663.8L2177.1 664.2L2178.1 664.8L2179.1 665.5L2180.1 666.1L2181.1 666.5L2182.1 666.4L2183.1 666.1L2184.1 665.4L2185.1 664.6L2186.1 663.8L2187.1 663.0L2188.1 662.4L2189.1 662.1L2190.1 662.1L2191.1 662.4L2192.1 663.0L2193.1 663.6L2194.1 664.2L2195.1 664.7L2196.1 664.9L2197.1 664.8L2198.1 664.5L2199.1 664.0L2200.1 663.3L2201.1 662.7L2202.1 662.0L2203.1 661.5L2204.1 661.2L2205.1 661.1L2206.1 661.2L2207.1 661.4L2208.1 661.6L2209.1 661.7L2210.1 661.6L2211.1 661.1L2212.1 660.4L2213.1 659.5L2214.1 658.5L2215.1 657.5L2216.1 656.8L2217.1 656.4L2218.1 656.5L2219.1 657.1L2220.1 658.0L2221.1 659.2L2222.1 660.3L2223.1 661.4L2224.1 662.1L2225.1 662.4L2226.1 662.4L2227.1 662.1L2228.1 661.7L2229.1 661.2L2230.1 660.8L2231.1 660.4L2232.1 660.3L2233.1 660.3L2234.1 660.5L2235.1 660.8L2236.1 661.3L2237.1 661.7L2238.1 662.2L2239.1 662.6L2240.1 663.0L2241.1 663.3L2242.1 663.5L2243.1 663.6L2244.1 663.7L2245.1 663.7L2246.1 663.6L2247.1 663.5L2248.1 663.5L2249.1 663.4L2250.1 663.4L2251.1 663.6L2252.1 663.9L2253.1 664.5L2254.1 665.4L2255.1 666.5L2256.1 667.6L2257.1 668.7L2258.1 669.6L2259.1 670.3L2260.1 670.4L2261.1 669.7L2262.1 668.5L2263.1 666.8L2264.1 665.2L2265.1 664.0L2266.1 663.4L2267.1 663.8L2268.1 665.1L2269.1 667.1L2270.1 669.4L2271.1 671.7L2272.1 673.6L2273.1 674.8L2274.1 675.2L2275.1 674.8L2276.1 673.7L2277.1 672.3L2278.1 670.7L2279.1 669.3L2280.1 668.4L2281.1 668.2L2282.1 668.7L2283.1 669.8L2284.1 671.2L2285.1 672.8L2286.1 674.2L2287.1 675.1L2288.1 675.4L2289.1 675.0L2290.1 674.2L2291.1 673.1L2292.1 671.9L2293.1 670.8L2294.1 670.0L2295.1 669.7L2296.1 670.0L2297.1 670.8L2298.1 671.9L2299.1 673.2L2300.1 674.5L2301.1 675.5L2302.1 676.1L2303.1 676.2L2304.1 675.6L2305.1 674.6L2306.1 673.3L2307.1 672.1L2308.1 671.1L2309.1 670.6L2310.1 670.8L2311.1 671.5L2312.1 672.7L2313.1 674.0L2314.1 675.4L2315.1 676.4L2316.1 677.0L2317.1 677.0L2318.1 676.5L2319.1 675.6L2320.1 674.4L2321.1 673.1L2322.1 671.9L2323.1 671.0L2324.1 670.5L2325.1 670.3L2326.1 670.5L2327.1 670.9L2328.1 671.4L2329.1 671.9L2330.1 672.3L2331.1 672.4L2332.1 672.1L2333.1 671.5L2334.1 670.5L2335.1 669.3L2336.1 667.9L2337.1 666.5L2338.1 665.2L2339.1 664.1L2340.1 663.3L2341.1 663.1L2342.1 663.4L2343.1 664.3L2344.1 665.5L2345.1 666.8L2346.1 668.0L2347.1 668.6L2348.1 668.6L2349.1 668.0L2350.1 667.0L2351.1 666.1L2352.1 665.7L2353.1 665.6L2354.1 665.6"/>
</g>
<g stroke="rgba(0,0,0,0.27)" stroke-width="7.2" fill="none" stroke-dasharray="3.8 11.47">
<line x1="492.94" y1="66.35" x2="492.94" y2="1269.40" stroke-dashoffset="-8.00"/>
<line x1="699.78" y1="66.35" x2="699.78" y2="1269.40" stroke-dashoffset="-8.00"/>
<line x1="906.62" y1="66.35" x2="906.62" y2="1269.40" stroke-dashoffset="-8.00"/>
<line x1="1113.46" y1="66.35" x2="1113.46" y2="1269.40" stroke-dashoffset="-8.00"/>
<line x1="1320.30" y1="66.35" x2="1320.30" y2="1269.40" stroke-dashoffset="-8.00"/>
<line x1="1527.14" y1="66.35" x2="1527.14" y2="1269.40" stroke-dashoffset="-8.00"/>
<line x1="1733.98" y1="66.35" x2="1733.98" y2="1269.40" stroke-dashoffset="-8.00"/>
<line x1="1940.82" y1="66.35" x2="1940.82" y2="1269.40" stroke-dashoffset="-8.00"/>
<line x1="2147.66" y1="66.35" x2="2147.66" y2="1269.40" stroke-dashoffset="-8.00"/>
<line x1="286.10" y1="86.75" x2="2354.50" y2="86.75" stroke-dashoffset="-3.60"/>
<line x1="286.10" y1="280.22" x2="2354.50" y2="280.22" stroke-dashoffset="-3.60"/>
<line x1="286.10" y1="473.68" x2="2354.50" y2="473.68" stroke-dashoffset="-3.60"/>
<line x1="286.10" y1="667.15" x2="2354.50" y2="667.15" stroke-dashoffset="-3.60"/>
<line x1="286.10" y1="860.62" x2="2354.50" y2="860.62" stroke-dashoffset="-3.60"/>
<line x1="286.10" y1="1054.08" x2="2354.50" y2="1054.08" stroke-dashoffset="-3.60"/>
<line x1="286.10" y1="1247.55" x2="2354.50" y2="1247.55" stroke-dashoffset="-3.60"/>
</g>
<g stroke="#000" stroke-width="7.3" fill="none" stroke-linecap="butt">
<rect x="286.10" y="66.35" width="2068.40" height="1203.05"/>
<line x1="286.10" y1="1269.40" x2="286.10" y2="1297.80"/>
<line x1="286.10" y1="66.35" x2="286.10" y2="38.30"/>
<line x1="492.94" y1="1269.40" x2="492.94" y2="1297.80"/>
<line x1="492.94" y1="66.35" x2="492.94" y2="38.30"/>
<line x1="699.78" y1="1269.40" x2="699.78" y2="1297.80"/>
<line x1="699.78" y1="66.35" x2="699.78" y2="38.30"/>
<line x1="906.62" y1="1269.40" x2="906.62" y2="1297.80"/>
<line x1="906.62" y1="66.35" x2="906.62" y2="38.30"/>
<line x1="1113.46" y1="1269.40" x2="1113.46" y2="1297.80"/>
<line x1="1113.46" y1="66.35" x2="1113.46" y2="38.30"/>
<line x1="1320.30" y1="1269.40" x2="1320.30" y2="1297.80"/>
<line x1="1320.30" y1="66.35" x2="1320.30" y2="38.30"/>
<line x1="1527.14" y1="1269.40" x2="1527.14" y2="1297.80"/>
<line x1="1527.14" y1="66.35" x2="1527.14" y2="38.30"/>
<line x1="1733.98" y1="1269.40" x2="1733.98" y2="1297.80"/>
<line x1="1733.98" y1="66.35" x2="1733.98" y2="38.30"/>
<line x1="1940.82" y1="1269.40" x2="1940.82" y2="1297.80"/>
<line x1="1940.82" y1="66.35" x2="1940.82" y2="38.30"/>
<line x1="2147.66" y1="1269.40" x2="2147.66" y2="1297.80"/>
<line x1="2147.66" y1="66.35" x2="2147.66" y2="38.30"/>
<line x1="2354.50" y1="1269.40" x2="2354.50" y2="1297.80"/>
<line x1="2354.50" y1="66.35" x2="2354.50" y2="38.30"/>
<line x1="286.10" y1="86.75" x2="257.90" y2="86.75"/>
<line x1="2354.50" y1="86.75" x2="2382.80" y2="86.75"/>
<line x1="286.10" y1="280.22" x2="257.90" y2="280.22"/>
<line x1="2354.50" y1="280.22" x2="2382.80" y2="280.22"/>
<line x1="286.10" y1="473.68" x2="257.90" y2="473.68"/>
<line x1="2354.50" y1="473.68" x2="2382.80" y2="473.68"/>
<line x1="286.10" y1="667.15" x2="257.90" y2="667.15"/>
<line x1="2354.50" y1="667.15" x2="2382.80" y2="667.15"/>
<line x1="286.10" y1="860.62" x2="257.90" y2="860.62"/>
<line x1="2354.50" y1="860.62" x2="2382.80" y2="860.62"/>
<line x1="286.10" y1="1054.08" x2="257.90" y2="1054.08"/>
<line x1="2354.50" y1="1054.08" x2="2382.80" y2="1054.08"/>
<line x1="286.10" y1="1247.55" x2="257.90" y2="1247.55"/>
<line x1="2354.50" y1="1247.55" x2="2382.80" y2="1247.55"/>
</g>
<g font-size="71">
<text x="285.1" y="1387.5" text-anchor="middle">0</text>
<text x="491.9" y="1387.5" text-anchor="middle">1</text>
<text x="698.8" y="1387.5" text-anchor="middle">2</text>
<text x="905.6" y="1387.5" text-anchor="middle">3</text>
<text x="1112.5" y="1387.5" text-anchor="middle">4</text>
<text x="1319.3" y="1387.5" text-anchor="middle">5</text>
<text x="1526.1" y="1387.5" text-anchor="middle">6</text>
<text x="1733.0" y="1387.5" text-anchor="middle">7</text>
<text x="1939.8" y="1387.5" text-anchor="middle">8</text>
<text x="2146.7" y="1387.5" text-anchor="middle">9</text>
<text x="2353.5" y="1387.5" text-anchor="middle">10</text>
<text x="233.9" y="114.6" text-anchor="end">0.6</text>
<text x="233.9" y="308.0" text-anchor="end">0.4</text>
<text x="233.9" y="501.5" text-anchor="end">0.2</text>
<text x="233.9" y="694.9" text-anchor="end">0</text>
<text x="233.9" y="888.4" text-anchor="end">-0.2</text>
<text x="233.9" y="1081.9" text-anchor="end">-0.4</text>
<text x="233.9" y="1275.3" text-anchor="end">-0.6</text>
</g>
<text font-size="78" y="1469.7"><tspan x="1186.6 1235.8 1257.0 1314.6">Time</tspan><tspan x="1352"> </tspan><tspan x="1374.7" textLength="22.1" lengthAdjust="spacingAndGlyphs">(</tspan><tspan x="1397.5">s</tspan><tspan x="1429.6" textLength="22.1" lengthAdjust="spacingAndGlyphs">)</tspan></text>
<g transform="translate(81 820) rotate(-90)">
<text font-size="76" y="0"><tspan x="2.6" font-style="italic" font-size="68">ė</tspan><tspan x="33.3" y="10" font-style="italic" font-size="52">l</tspan><tspan x="66" y="0"> </tspan><tspan x="86.7" y="0" textLength="20.2" lengthAdjust="spacingAndGlyphs">(</tspan><tspan x="107.8" y="0" textLength="101.0" lengthAdjust="spacingAndGlyphs">rad</tspan><tspan x="213.9" y="13" font-size="104">/</tspan><tspan x="244.1" y="0">s</tspan><tspan x="276.4" y="0" textLength="20.2" lengthAdjust="spacingAndGlyphs">)</tspan></text>
</g>
<rect x="1720.9" y="109.1" width="591.6" height="236.1" fill="#fff" stroke="#000" stroke-width="7.3"/>
<line x1="1736" y1="153.0" x2="1888.7" y2="153.0" stroke="#f8510c" stroke-width="10.3"/>
<text x="1899" y="173.5" font-size="62" textLength="279.3" lengthAdjust="spacing">SMC+RBF</text>
<line x1="1736" y1="226.8" x2="1888.7" y2="226.8" stroke="#5aad19" stroke-width="10.3"/>
<text x="1899" y="247.3" font-size="62">PID</text>
<line x1="1736" y1="301.8" x2="1888.7" y2="301.8" stroke="#0072bd" stroke-width="10.3"/>
<text x="1899" y="322.3" font-size="62">STASMC+RBF</text>
</svg></body></html>
